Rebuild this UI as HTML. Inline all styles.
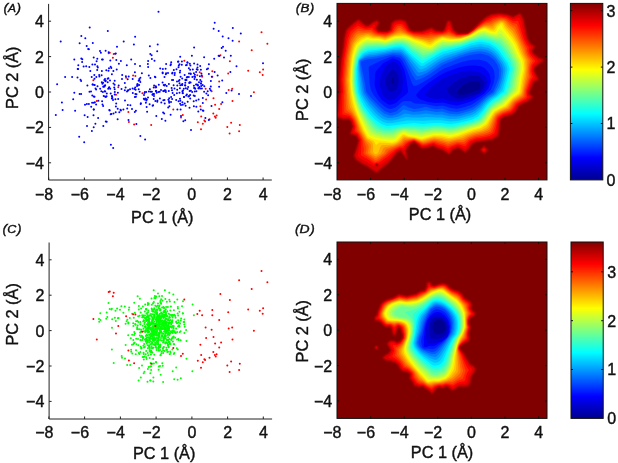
<!DOCTYPE html>
<html><head><meta charset="utf-8"><title>Figure</title>
<style>html,body{margin:0;padding:0;background:#fff}svg{display:block;will-change:transform;transform:translateZ(0)}text{font-family:"Liberation Sans",Arial,Helvetica,sans-serif;fill:#111;stroke:#111;stroke-width:0.4px}</style>
</head><body>
<svg width="618" height="463" viewBox="0 0 618 463">
<defs><linearGradient id="jet" x1="0" y1="1" x2="0" y2="0"><stop offset="0" stop-color="#00008f"/><stop offset="0.125" stop-color="#0000ff"/><stop offset="0.375" stop-color="#00ffff"/><stop offset="0.625" stop-color="#ffff00"/><stop offset="0.875" stop-color="#ff0000"/><stop offset="1" stop-color="#800000"/></linearGradient></defs>
<rect width="618" height="463" fill="#fff"/>
<g stroke="#222" stroke-width="1" fill="none"><path d="M48.6,3.9V180.0H271.8"/><path d="M48.7,180.0v-2.5"/><path d="M84.4,180.0v-2.5"/><path d="M120.2,180.0v-2.5"/><path d="M155.9,180.0v-2.5"/><path d="M191.7,180.0v-2.5"/><path d="M227.4,180.0v-2.5"/><path d="M263.1,180.0v-2.5"/><path d="M48.6,162.8h2.5"/><path d="M48.6,127.4h2.5"/><path d="M48.6,92.0h2.5"/><path d="M48.6,56.6h2.5"/><path d="M48.6,21.2h2.5"/></g>
<g fill="#ff0000"><circle cx="261.5" cy="32.3" r="1.0"/><circle cx="267.4" cy="43.7" r="1.0"/><circle cx="239.1" cy="41.6" r="1.0"/><circle cx="251.7" cy="50.3" r="1.0"/><circle cx="220.4" cy="55.3" r="1.0"/><circle cx="229.9" cy="61.3" r="1.0"/><circle cx="184.3" cy="60.8" r="1.0"/><circle cx="199.7" cy="72.2" r="1.0"/><circle cx="197.3" cy="75.3" r="1.0"/><circle cx="202.1" cy="76.7" r="1.0"/><circle cx="212.3" cy="71.3" r="1.0"/><circle cx="212.3" cy="76.7" r="1.0"/><circle cx="228.2" cy="73.6" r="1.0"/><circle cx="219.2" cy="81.5" r="1.0"/><circle cx="248.2" cy="70.8" r="1.0"/><circle cx="259.8" cy="72.2" r="1.0"/><circle cx="263.1" cy="69.6" r="1.0"/><circle cx="262.7" cy="75.1" r="1.0"/><circle cx="205.6" cy="88.8" r="1.0"/><circle cx="211.6" cy="91.2" r="1.0"/><circle cx="228.7" cy="90.0" r="1.0"/><circle cx="232.2" cy="88.8" r="1.0"/><circle cx="253.9" cy="92.2" r="1.0"/><circle cx="206.1" cy="99.5" r="1.0"/><circle cx="213.5" cy="98.3" r="1.0"/><circle cx="232.5" cy="100.9" r="1.0"/><circle cx="200.4" cy="106.2" r="1.0"/><circle cx="215.1" cy="104.8" r="1.0"/><circle cx="221.1" cy="104.0" r="1.0"/><circle cx="219.2" cy="109.0" r="1.0"/><circle cx="173.3" cy="109.5" r="1.0"/><circle cx="213.3" cy="113.5" r="1.0"/><circle cx="182.8" cy="115.1" r="1.0"/><circle cx="181.0" cy="117.4" r="1.0"/><circle cx="201.2" cy="116.5" r="1.0"/><circle cx="216.6" cy="115.6" r="1.0"/><circle cx="214.9" cy="116.5" r="1.0"/><circle cx="215.7" cy="117.8" r="1.0"/><circle cx="209.5" cy="119.2" r="1.0"/><circle cx="204.4" cy="120.6" r="1.0"/><circle cx="205.1" cy="121.5" r="1.0"/><circle cx="197.8" cy="122.2" r="1.0"/><circle cx="202.8" cy="123.7" r="1.0"/><circle cx="201.0" cy="129.2" r="1.0"/><circle cx="231.1" cy="122.8" r="1.0"/><circle cx="227.3" cy="126.9" r="1.0"/><circle cx="239.8" cy="125.1" r="1.0"/><circle cx="239.1" cy="131.3" r="1.0"/><circle cx="229.6" cy="133.4" r="1.0"/><circle cx="108.7" cy="53.3" r="1.0"/><circle cx="109.8" cy="52.8" r="1.0"/><circle cx="113.7" cy="54.1" r="1.0"/><circle cx="112.9" cy="57.7" r="1.0"/><circle cx="93.4" cy="80.3" r="1.0"/><circle cx="96.8" cy="101.0" r="1.0"/><circle cx="118.3" cy="87.3" r="1.0"/><circle cx="116.0" cy="94.8" r="1.0"/><circle cx="126.1" cy="77.7" r="1.0"/><circle cx="133.1" cy="75.6" r="1.0"/><circle cx="135.4" cy="75.9" r="1.0"/><circle cx="142.4" cy="93.2" r="1.0"/><circle cx="155.4" cy="87.5" r="1.0"/><circle cx="128.4" cy="111.9" r="1.0"/><circle cx="128.9" cy="122.0" r="1.0"/><circle cx="134.1" cy="124.6" r="1.0"/><circle cx="151.2" cy="125.1" r="1.0"/></g><g fill="#0000ff"><circle cx="101.3" cy="91.2" r="1.0"/><circle cx="163.1" cy="112.4" r="1.0"/><circle cx="125.0" cy="100.6" r="1.0"/><circle cx="89.3" cy="67.0" r="1.0"/><circle cx="214.6" cy="72.0" r="1.0"/><circle cx="93.8" cy="109.5" r="1.0"/><circle cx="107.8" cy="31.1" r="1.0"/><circle cx="102.5" cy="104.4" r="1.0"/><circle cx="222.4" cy="102.2" r="1.0"/><circle cx="107.7" cy="82.3" r="1.0"/><circle cx="179.9" cy="72.5" r="1.0"/><circle cx="90.3" cy="70.9" r="1.0"/><circle cx="176.5" cy="69.2" r="1.0"/><circle cx="81.1" cy="81.1" r="1.0"/><circle cx="137.6" cy="84.3" r="1.0"/><circle cx="109.3" cy="87.2" r="1.0"/><circle cx="110.9" cy="144.8" r="1.0"/><circle cx="157.3" cy="101.8" r="1.0"/><circle cx="155.9" cy="90.9" r="1.0"/><circle cx="79.2" cy="136.7" r="1.0"/><circle cx="97.4" cy="66.3" r="1.0"/><circle cx="178.0" cy="61.8" r="1.0"/><circle cx="127.9" cy="90.5" r="1.0"/><circle cx="194.1" cy="47.6" r="1.0"/><circle cx="86.7" cy="45.9" r="1.0"/><circle cx="182.0" cy="84.8" r="1.0"/><circle cx="199.0" cy="82.2" r="1.0"/><circle cx="84.6" cy="115.3" r="1.0"/><circle cx="91.0" cy="91.4" r="1.0"/><circle cx="158.8" cy="84.8" r="1.0"/><circle cx="182.3" cy="83.9" r="1.0"/><circle cx="165.6" cy="68.7" r="1.0"/><circle cx="135.1" cy="36.8" r="1.0"/><circle cx="92.4" cy="64.6" r="1.0"/><circle cx="190.1" cy="94.9" r="1.0"/><circle cx="186.0" cy="65.2" r="1.0"/><circle cx="128.7" cy="76.6" r="1.0"/><circle cx="213.6" cy="28.7" r="1.0"/><circle cx="127.8" cy="105.1" r="1.0"/><circle cx="181.9" cy="61.5" r="1.0"/><circle cx="97.2" cy="70.1" r="1.0"/><circle cx="109.7" cy="110.4" r="1.0"/><circle cx="165.1" cy="84.7" r="1.0"/><circle cx="196.4" cy="106.7" r="1.0"/><circle cx="151.9" cy="91.8" r="1.0"/><circle cx="169.2" cy="98.2" r="1.0"/><circle cx="151.6" cy="55.2" r="1.0"/><circle cx="155.8" cy="86.3" r="1.0"/><circle cx="92.9" cy="84.5" r="1.0"/><circle cx="93.7" cy="109.5" r="1.0"/><circle cx="125.9" cy="76.2" r="1.0"/><circle cx="96.1" cy="89.6" r="1.0"/><circle cx="105.6" cy="50.7" r="1.0"/><circle cx="186.8" cy="77.6" r="1.0"/><circle cx="201.4" cy="73.6" r="1.0"/><circle cx="96.6" cy="61.2" r="1.0"/><circle cx="140.7" cy="103.9" r="1.0"/><circle cx="192.4" cy="77.1" r="1.0"/><circle cx="191.0" cy="130.1" r="1.0"/><circle cx="121.5" cy="89.0" r="1.0"/><circle cx="177.2" cy="89.8" r="1.0"/><circle cx="89.5" cy="91.8" r="1.0"/><circle cx="79.6" cy="94.0" r="1.0"/><circle cx="120.9" cy="61.0" r="1.0"/><circle cx="222.2" cy="80.6" r="1.0"/><circle cx="111.3" cy="68.1" r="1.0"/><circle cx="107.6" cy="78.7" r="1.0"/><circle cx="218.6" cy="55.7" r="1.0"/><circle cx="87.0" cy="126.1" r="1.0"/><circle cx="83.6" cy="66.4" r="1.0"/><circle cx="206.4" cy="93.6" r="1.0"/><circle cx="230.4" cy="72.0" r="1.0"/><circle cx="123.4" cy="109.5" r="1.0"/><circle cx="176.9" cy="93.2" r="1.0"/><circle cx="131.2" cy="59.4" r="1.0"/><circle cx="91.2" cy="106.7" r="1.0"/><circle cx="208.8" cy="120.0" r="1.0"/><circle cx="113.5" cy="113.4" r="1.0"/><circle cx="194.6" cy="88.0" r="1.0"/><circle cx="154.5" cy="60.7" r="1.0"/><circle cx="95.0" cy="64.5" r="1.0"/><circle cx="87.6" cy="117.1" r="1.0"/><circle cx="219.1" cy="86.8" r="1.0"/><circle cx="118.9" cy="63.7" r="1.0"/><circle cx="75.1" cy="110.8" r="1.0"/><circle cx="204.1" cy="91.8" r="1.0"/><circle cx="194.1" cy="88.0" r="1.0"/><circle cx="65.1" cy="77.1" r="1.0"/><circle cx="105.0" cy="79.1" r="1.0"/><circle cx="109.0" cy="68.2" r="1.0"/><circle cx="149.9" cy="46.3" r="1.0"/><circle cx="120.5" cy="109.8" r="1.0"/><circle cx="101.8" cy="82.3" r="1.0"/><circle cx="210.8" cy="86.5" r="1.0"/><circle cx="172.2" cy="73.5" r="1.0"/><circle cx="118.2" cy="98.9" r="1.0"/><circle cx="92.8" cy="43.0" r="1.0"/><circle cx="72.1" cy="76.9" r="1.0"/><circle cx="157.7" cy="44.4" r="1.0"/><circle cx="81.3" cy="58.6" r="1.0"/><circle cx="103.3" cy="125.9" r="1.0"/><circle cx="172.6" cy="92.9" r="1.0"/><circle cx="104.3" cy="80.1" r="1.0"/><circle cx="177.3" cy="85.5" r="1.0"/><circle cx="177.4" cy="109.4" r="1.0"/><circle cx="99.2" cy="75.0" r="1.0"/><circle cx="134.5" cy="89.1" r="1.0"/><circle cx="186.9" cy="94.4" r="1.0"/><circle cx="217.6" cy="75.5" r="1.0"/><circle cx="173.6" cy="85.2" r="1.0"/><circle cx="113.0" cy="100.0" r="1.0"/><circle cx="111.4" cy="114.0" r="1.0"/><circle cx="148.1" cy="61.1" r="1.0"/><circle cx="205.4" cy="117.9" r="1.0"/><circle cx="218.7" cy="30.9" r="1.0"/><circle cx="180.0" cy="98.8" r="1.0"/><circle cx="140.9" cy="103.3" r="1.0"/><circle cx="116.3" cy="59.9" r="1.0"/><circle cx="80.5" cy="79.7" r="1.0"/><circle cx="88.9" cy="103.9" r="1.0"/><circle cx="85.3" cy="38.3" r="1.0"/><circle cx="207.7" cy="91.2" r="1.0"/><circle cx="171.0" cy="102.0" r="1.0"/><circle cx="114.6" cy="84.8" r="1.0"/><circle cx="134.9" cy="97.1" r="1.0"/><circle cx="148.1" cy="67.0" r="1.0"/><circle cx="78.3" cy="65.2" r="1.0"/><circle cx="199.9" cy="76.2" r="1.0"/><circle cx="263.0" cy="63.3" r="1.0"/><circle cx="174.6" cy="75.1" r="1.0"/><circle cx="165.4" cy="120.8" r="1.0"/><circle cx="171.6" cy="88.1" r="1.0"/><circle cx="94.3" cy="75.0" r="1.0"/><circle cx="106.3" cy="70.3" r="1.0"/><circle cx="106.7" cy="121.8" r="1.0"/><circle cx="210.9" cy="80.9" r="1.0"/><circle cx="91.9" cy="131.1" r="1.0"/><circle cx="197.8" cy="84.9" r="1.0"/><circle cx="87.4" cy="85.4" r="1.0"/><circle cx="115.7" cy="112.3" r="1.0"/><circle cx="202.8" cy="98.1" r="1.0"/><circle cx="110.2" cy="88.7" r="1.0"/><circle cx="200.3" cy="79.9" r="1.0"/><circle cx="109.3" cy="110.0" r="1.0"/><circle cx="127.7" cy="79.2" r="1.0"/><circle cx="156.3" cy="116.1" r="1.0"/><circle cx="108.7" cy="52.2" r="1.0"/><circle cx="172.0" cy="80.0" r="1.0"/><circle cx="185.0" cy="85.2" r="1.0"/><circle cx="105.8" cy="121.5" r="1.0"/><circle cx="162.9" cy="68.9" r="1.0"/><circle cx="202.8" cy="102.9" r="1.0"/><circle cx="81.1" cy="94.1" r="1.0"/><circle cx="93.8" cy="96.5" r="1.0"/><circle cx="104.7" cy="91.3" r="1.0"/><circle cx="93.7" cy="127.3" r="1.0"/><circle cx="111.9" cy="74.3" r="1.0"/><circle cx="108.4" cy="78.3" r="1.0"/><circle cx="126.8" cy="65.3" r="1.0"/><circle cx="88.2" cy="49.1" r="1.0"/><circle cx="140.0" cy="66.1" r="1.0"/><circle cx="55.8" cy="115.1" r="1.0"/><circle cx="103.1" cy="106.1" r="1.0"/><circle cx="204.1" cy="57.3" r="1.0"/><circle cx="135.6" cy="89.8" r="1.0"/><circle cx="189.2" cy="82.9" r="1.0"/><circle cx="130.0" cy="89.3" r="1.0"/><circle cx="226.3" cy="92.9" r="1.0"/><circle cx="172.5" cy="72.7" r="1.0"/><circle cx="136.4" cy="124.1" r="1.0"/><circle cx="189.6" cy="82.2" r="1.0"/><circle cx="196.4" cy="91.2" r="1.0"/><circle cx="148.9" cy="91.6" r="1.0"/><circle cx="135.0" cy="63.9" r="1.0"/><circle cx="225.7" cy="50.8" r="1.0"/><circle cx="122.0" cy="79.0" r="1.0"/><circle cx="198.6" cy="99.6" r="1.0"/><circle cx="86.9" cy="103.9" r="1.0"/><circle cx="148.0" cy="97.5" r="1.0"/><circle cx="93.7" cy="57.5" r="1.0"/><circle cx="170.6" cy="114.7" r="1.0"/><circle cx="161.3" cy="102.6" r="1.0"/><circle cx="62.6" cy="110.0" r="1.0"/><circle cx="164.4" cy="85.5" r="1.0"/><circle cx="93.5" cy="115.2" r="1.0"/><circle cx="221.7" cy="48.0" r="1.0"/><circle cx="133.9" cy="44.5" r="1.0"/><circle cx="232.6" cy="40.8" r="1.0"/><circle cx="77.7" cy="69.0" r="1.0"/><circle cx="208.0" cy="68.6" r="1.0"/><circle cx="170.9" cy="64.2" r="1.0"/><circle cx="108.9" cy="87.8" r="1.0"/><circle cx="117.0" cy="46.7" r="1.0"/><circle cx="138.7" cy="89.2" r="1.0"/><circle cx="171.2" cy="62.3" r="1.0"/><circle cx="135.4" cy="94.1" r="1.0"/><circle cx="123.7" cy="41.4" r="1.0"/><circle cx="174.8" cy="72.9" r="1.0"/><circle cx="161.8" cy="118.9" r="1.0"/><circle cx="204.3" cy="86.2" r="1.0"/><circle cx="184.7" cy="103.5" r="1.0"/><circle cx="179.5" cy="92.8" r="1.0"/><circle cx="210.6" cy="90.2" r="1.0"/><circle cx="197.5" cy="64.4" r="1.0"/><circle cx="198.6" cy="88.2" r="1.0"/><circle cx="223.0" cy="46.7" r="1.0"/><circle cx="145.9" cy="102.7" r="1.0"/><circle cx="95.4" cy="123.8" r="1.0"/><circle cx="168.2" cy="107.4" r="1.0"/><circle cx="88.9" cy="49.2" r="1.0"/><circle cx="194.9" cy="74.7" r="1.0"/><circle cx="162.7" cy="73.3" r="1.0"/><circle cx="224.0" cy="57.5" r="1.0"/><circle cx="156.1" cy="91.1" r="1.0"/><circle cx="94.9" cy="102.3" r="1.0"/><circle cx="141.9" cy="73.2" r="1.0"/><circle cx="127.2" cy="108.4" r="1.0"/><circle cx="61.9" cy="102.4" r="1.0"/><circle cx="151.9" cy="59.1" r="1.0"/><circle cx="176.2" cy="99.9" r="1.0"/><circle cx="120.9" cy="110.5" r="1.0"/><circle cx="181.8" cy="64.8" r="1.0"/><circle cx="179.9" cy="88.2" r="1.0"/><circle cx="114.8" cy="91.9" r="1.0"/><circle cx="172.0" cy="90.2" r="1.0"/><circle cx="191.9" cy="55.7" r="1.0"/><circle cx="144.5" cy="93.1" r="1.0"/><circle cx="182.4" cy="91.3" r="1.0"/><circle cx="96.1" cy="104.6" r="1.0"/><circle cx="92.1" cy="102.8" r="1.0"/><circle cx="208.9" cy="73.9" r="1.0"/><circle cx="135.9" cy="96.8" r="1.0"/><circle cx="117.7" cy="108.8" r="1.0"/><circle cx="134.8" cy="111.9" r="1.0"/><circle cx="82.1" cy="62.0" r="1.0"/><circle cx="79.6" cy="43.3" r="1.0"/><circle cx="74.3" cy="92.7" r="1.0"/><circle cx="236.5" cy="66.2" r="1.0"/><circle cx="153.7" cy="87.6" r="1.0"/><circle cx="185.2" cy="120.2" r="1.0"/><circle cx="188.8" cy="77.0" r="1.0"/><circle cx="78.1" cy="69.1" r="1.0"/><circle cx="177.0" cy="81.6" r="1.0"/><circle cx="156.6" cy="92.8" r="1.0"/><circle cx="219.4" cy="56.1" r="1.0"/><circle cx="77.5" cy="77.4" r="1.0"/><circle cx="102.0" cy="59.6" r="1.0"/><circle cx="182.6" cy="93.0" r="1.0"/><circle cx="153.1" cy="105.2" r="1.0"/><circle cx="96.3" cy="77.0" r="1.0"/><circle cx="211.8" cy="76.7" r="1.0"/><circle cx="97.5" cy="86.3" r="1.0"/><circle cx="86.2" cy="66.3" r="1.0"/><circle cx="160.2" cy="68.6" r="1.0"/><circle cx="165.8" cy="74.2" r="1.0"/><circle cx="201.4" cy="81.6" r="1.0"/><circle cx="150.3" cy="53.9" r="1.0"/><circle cx="172.1" cy="99.0" r="1.0"/><circle cx="201.9" cy="88.5" r="1.0"/><circle cx="196.1" cy="72.0" r="1.0"/><circle cx="115.8" cy="53.4" r="1.0"/><circle cx="168.4" cy="99.7" r="1.0"/><circle cx="102.8" cy="59.4" r="1.0"/><circle cx="74.3" cy="59.6" r="1.0"/><circle cx="82.3" cy="59.3" r="1.0"/><circle cx="115.1" cy="53.8" r="1.0"/><circle cx="164.2" cy="113.5" r="1.0"/><circle cx="173.8" cy="70.1" r="1.0"/><circle cx="162.6" cy="72.5" r="1.0"/><circle cx="130.4" cy="105.3" r="1.0"/><circle cx="231.6" cy="90.6" r="1.0"/><circle cx="147.9" cy="64.0" r="1.0"/><circle cx="185.6" cy="80.3" r="1.0"/><circle cx="203.4" cy="110.7" r="1.0"/><circle cx="195.1" cy="76.9" r="1.0"/><circle cx="154.0" cy="96.1" r="1.0"/><circle cx="230.8" cy="55.7" r="1.0"/><circle cx="183.9" cy="97.0" r="1.0"/><circle cx="157.4" cy="100.6" r="1.0"/><circle cx="182.8" cy="104.7" r="1.0"/><circle cx="154.0" cy="94.0" r="1.0"/><circle cx="180.6" cy="76.7" r="1.0"/><circle cx="157.2" cy="51.3" r="1.0"/><circle cx="163.7" cy="85.1" r="1.0"/><circle cx="73.2" cy="99.3" r="1.0"/><circle cx="179.5" cy="64.3" r="1.0"/><circle cx="197.6" cy="69.8" r="1.0"/><circle cx="137.0" cy="86.0" r="1.0"/><circle cx="143.8" cy="98.7" r="1.0"/><circle cx="119.3" cy="112.3" r="1.0"/><circle cx="97.3" cy="58.8" r="1.0"/><circle cx="166.1" cy="64.0" r="1.0"/><circle cx="182.4" cy="102.3" r="1.0"/><circle cx="165.9" cy="92.1" r="1.0"/><circle cx="94.5" cy="96.8" r="1.0"/><circle cx="113.2" cy="147.9" r="1.0"/><circle cx="117.6" cy="119.2" r="1.0"/><circle cx="115.9" cy="106.4" r="1.0"/><circle cx="180.3" cy="100.7" r="1.0"/><circle cx="150.4" cy="78.0" r="1.0"/><circle cx="103.1" cy="82.7" r="1.0"/><circle cx="108.2" cy="88.8" r="1.0"/><circle cx="110.7" cy="93.5" r="1.0"/><circle cx="100.2" cy="88.8" r="1.0"/><circle cx="106.8" cy="93.6" r="1.0"/><circle cx="101.6" cy="75.3" r="1.0"/><circle cx="105.2" cy="91.4" r="1.0"/><circle cx="102.9" cy="92.1" r="1.0"/><circle cx="93.9" cy="102.8" r="1.0"/><circle cx="103.9" cy="86.5" r="1.0"/><circle cx="111.9" cy="98.5" r="1.0"/><circle cx="95.5" cy="88.4" r="1.0"/><circle cx="101.9" cy="71.1" r="1.0"/><circle cx="110.0" cy="80.6" r="1.0"/><circle cx="94.5" cy="78.7" r="1.0"/><circle cx="105.7" cy="80.8" r="1.0"/><circle cx="94.6" cy="85.0" r="1.0"/><circle cx="114.2" cy="87.6" r="1.0"/><circle cx="124.8" cy="90.2" r="1.0"/><circle cx="122.2" cy="75.1" r="1.0"/><circle cx="102.1" cy="101.2" r="1.0"/><circle cx="110.7" cy="66.8" r="1.0"/><circle cx="105.2" cy="85.3" r="1.0"/><circle cx="105.0" cy="96.4" r="1.0"/><circle cx="117.9" cy="92.7" r="1.0"/><circle cx="92.3" cy="95.4" r="1.0"/><circle cx="113.5" cy="83.5" r="1.0"/><circle cx="103.7" cy="96.0" r="1.0"/><circle cx="116.7" cy="69.6" r="1.0"/><circle cx="105.8" cy="96.9" r="1.0"/><circle cx="98.1" cy="118.0" r="1.0"/><circle cx="106.6" cy="96.2" r="1.0"/><circle cx="110.7" cy="114.2" r="1.0"/><circle cx="104.4" cy="86.4" r="1.0"/><circle cx="108.5" cy="70.8" r="1.0"/><circle cx="99.4" cy="76.6" r="1.0"/><circle cx="85.0" cy="104.7" r="1.0"/><circle cx="112.1" cy="96.6" r="1.0"/><circle cx="110.3" cy="60.6" r="1.0"/><circle cx="105.4" cy="81.3" r="1.0"/><circle cx="104.7" cy="85.7" r="1.0"/><circle cx="113.4" cy="70.9" r="1.0"/><circle cx="100.0" cy="51.1" r="1.0"/><circle cx="97.8" cy="67.4" r="1.0"/><circle cx="102.4" cy="83.8" r="1.0"/><circle cx="114.7" cy="80.8" r="1.0"/><circle cx="91.7" cy="77.1" r="1.0"/><circle cx="114.7" cy="94.5" r="1.0"/><circle cx="98.4" cy="100.8" r="1.0"/><circle cx="94.3" cy="85.1" r="1.0"/><circle cx="115.4" cy="99.2" r="1.0"/><circle cx="103.2" cy="86.7" r="1.0"/><circle cx="92.5" cy="84.4" r="1.0"/><circle cx="100.9" cy="52.7" r="1.0"/><circle cx="112.4" cy="97.9" r="1.0"/><circle cx="202.7" cy="85.0" r="1.0"/><circle cx="185.3" cy="85.6" r="1.0"/><circle cx="194.2" cy="76.6" r="1.0"/><circle cx="197.5" cy="67.4" r="1.0"/><circle cx="183.0" cy="90.5" r="1.0"/><circle cx="193.7" cy="95.5" r="1.0"/><circle cx="189.5" cy="107.8" r="1.0"/><circle cx="184.1" cy="97.1" r="1.0"/><circle cx="184.6" cy="75.1" r="1.0"/><circle cx="190.6" cy="82.5" r="1.0"/><circle cx="190.2" cy="98.4" r="1.0"/><circle cx="183.8" cy="88.8" r="1.0"/><circle cx="185.3" cy="82.7" r="1.0"/><circle cx="201.8" cy="75.6" r="1.0"/><circle cx="192.2" cy="92.1" r="1.0"/><circle cx="199.4" cy="86.9" r="1.0"/><circle cx="202.8" cy="110.5" r="1.0"/><circle cx="196.2" cy="100.5" r="1.0"/><circle cx="214.2" cy="58.8" r="1.0"/><circle cx="181.0" cy="116.1" r="1.0"/><circle cx="198.5" cy="88.2" r="1.0"/><circle cx="186.5" cy="79.9" r="1.0"/><circle cx="209.8" cy="88.8" r="1.0"/><circle cx="208.1" cy="95.3" r="1.0"/><circle cx="168.9" cy="84.1" r="1.0"/><circle cx="179.5" cy="83.2" r="1.0"/><circle cx="197.0" cy="84.4" r="1.0"/><circle cx="198.3" cy="111.4" r="1.0"/><circle cx="197.8" cy="85.4" r="1.0"/><circle cx="189.1" cy="96.0" r="1.0"/><circle cx="194.8" cy="91.4" r="1.0"/><circle cx="196.9" cy="79.7" r="1.0"/><circle cx="189.0" cy="73.5" r="1.0"/><circle cx="200.9" cy="69.7" r="1.0"/><circle cx="165.6" cy="90.6" r="1.0"/><circle cx="196.7" cy="69.2" r="1.0"/><circle cx="178.8" cy="65.5" r="1.0"/><circle cx="200.2" cy="66.0" r="1.0"/><circle cx="187.4" cy="62.2" r="1.0"/><circle cx="180.3" cy="85.3" r="1.0"/><circle cx="193.9" cy="85.8" r="1.0"/><circle cx="180.1" cy="70.7" r="1.0"/><circle cx="180.1" cy="103.7" r="1.0"/><circle cx="173.1" cy="80.0" r="1.0"/><circle cx="189.6" cy="91.1" r="1.0"/><circle cx="195.2" cy="88.7" r="1.0"/><circle cx="200.8" cy="109.4" r="1.0"/><circle cx="188.4" cy="96.5" r="1.0"/><circle cx="201.1" cy="83.5" r="1.0"/><circle cx="190.1" cy="69.8" r="1.0"/><circle cx="188.9" cy="68.3" r="1.0"/><circle cx="196.0" cy="84.4" r="1.0"/><circle cx="201.2" cy="86.0" r="1.0"/><circle cx="186.2" cy="95.6" r="1.0"/><circle cx="187.3" cy="77.1" r="1.0"/><circle cx="188.1" cy="86.9" r="1.0"/><circle cx="190.8" cy="74.0" r="1.0"/><circle cx="180.2" cy="56.8" r="1.0"/><circle cx="200.9" cy="83.6" r="1.0"/><circle cx="185.6" cy="105.7" r="1.0"/><circle cx="194.8" cy="96.1" r="1.0"/><circle cx="181.0" cy="105.1" r="1.0"/><circle cx="193.7" cy="101.2" r="1.0"/><circle cx="194.1" cy="63.5" r="1.0"/><circle cx="185.4" cy="79.7" r="1.0"/><circle cx="211.5" cy="106.0" r="1.0"/><circle cx="193.9" cy="73.3" r="1.0"/><circle cx="208.9" cy="64.2" r="1.0"/><circle cx="200.2" cy="88.6" r="1.0"/><circle cx="182.8" cy="93.3" r="1.0"/><circle cx="185.8" cy="88.2" r="1.0"/><circle cx="194.5" cy="78.9" r="1.0"/><circle cx="190.5" cy="73.5" r="1.0"/><circle cx="190.4" cy="65.4" r="1.0"/><circle cx="186.8" cy="64.9" r="1.0"/><circle cx="170.5" cy="65.3" r="1.0"/><circle cx="187.5" cy="62.7" r="1.0"/><circle cx="166.1" cy="73.2" r="1.0"/><circle cx="193.9" cy="106.2" r="1.0"/><circle cx="182.1" cy="85.1" r="1.0"/><circle cx="182.2" cy="78.4" r="1.0"/><circle cx="187.5" cy="88.9" r="1.0"/><circle cx="192.8" cy="69.4" r="1.0"/><circle cx="174.5" cy="88.6" r="1.0"/><circle cx="171.1" cy="97.1" r="1.0"/><circle cx="178.4" cy="61.4" r="1.0"/><circle cx="168.0" cy="73.1" r="1.0"/><circle cx="179.5" cy="79.9" r="1.0"/><circle cx="206.9" cy="69.2" r="1.0"/><circle cx="178.5" cy="67.2" r="1.0"/><circle cx="161.0" cy="90.1" r="1.0"/><circle cx="128.5" cy="119.9" r="1.0"/><circle cx="155.4" cy="100.9" r="1.0"/><circle cx="145.4" cy="98.6" r="1.0"/><circle cx="149.6" cy="104.2" r="1.0"/><circle cx="159.7" cy="91.7" r="1.0"/><circle cx="178.8" cy="81.1" r="1.0"/><circle cx="153.7" cy="98.9" r="1.0"/><circle cx="152.6" cy="105.8" r="1.0"/><circle cx="134.9" cy="72.2" r="1.0"/><circle cx="159.9" cy="98.6" r="1.0"/><circle cx="146.6" cy="106.9" r="1.0"/><circle cx="163.9" cy="91.2" r="1.0"/><circle cx="149.9" cy="89.2" r="1.0"/><circle cx="178.6" cy="101.3" r="1.0"/><circle cx="118.7" cy="85.4" r="1.0"/><circle cx="145.8" cy="98.9" r="1.0"/><circle cx="164.7" cy="103.6" r="1.0"/><circle cx="144.9" cy="91.9" r="1.0"/><circle cx="137.8" cy="85.6" r="1.0"/><circle cx="146.3" cy="100.5" r="1.0"/><circle cx="128.4" cy="90.3" r="1.0"/><circle cx="152.5" cy="94.8" r="1.0"/><circle cx="189.8" cy="63.8" r="1.0"/><circle cx="169.0" cy="101.3" r="1.0"/><circle cx="132.7" cy="79.1" r="1.0"/><circle cx="136.5" cy="94.3" r="1.0"/><circle cx="144.0" cy="95.1" r="1.0"/><circle cx="166.7" cy="86.1" r="1.0"/><circle cx="137.3" cy="84.3" r="1.0"/><circle cx="139.5" cy="80.3" r="1.0"/><circle cx="164.8" cy="90.3" r="1.0"/><circle cx="164.5" cy="100.1" r="1.0"/><circle cx="144.5" cy="99.5" r="1.0"/><circle cx="132.6" cy="88.4" r="1.0"/><circle cx="125.6" cy="87.6" r="1.0"/><circle cx="139.3" cy="78.9" r="1.0"/><circle cx="114.7" cy="89.3" r="1.0"/><circle cx="162.6" cy="82.5" r="1.0"/><circle cx="140.4" cy="77.7" r="1.0"/><circle cx="158.3" cy="92.0" r="1.0"/><circle cx="180.6" cy="109.5" r="1.0"/><circle cx="169.4" cy="106.3" r="1.0"/><circle cx="132.0" cy="109.0" r="1.0"/><circle cx="164.5" cy="76.9" r="1.0"/><circle cx="169.2" cy="102.8" r="1.0"/><circle cx="138.6" cy="80.7" r="1.0"/><circle cx="135.2" cy="87.5" r="1.0"/><circle cx="148.8" cy="75.6" r="1.0"/><circle cx="124.8" cy="83.1" r="1.0"/><circle cx="174.2" cy="94.9" r="1.0"/><circle cx="111.9" cy="95.9" r="1.0"/><circle cx="132.8" cy="92.9" r="1.0"/><circle cx="146.2" cy="91.9" r="1.0"/><circle cx="146.9" cy="99.4" r="1.0"/><circle cx="153.2" cy="94.1" r="1.0"/><circle cx="154.9" cy="76.7" r="1.0"/><circle cx="147.1" cy="111.8" r="1.0"/><circle cx="168.8" cy="91.0" r="1.0"/><circle cx="116.2" cy="103.4" r="1.0"/><circle cx="150.6" cy="91.8" r="1.0"/><circle cx="139.1" cy="84.9" r="1.0"/><circle cx="152.7" cy="94.4" r="1.0"/><circle cx="154.1" cy="85.6" r="1.0"/><circle cx="135.9" cy="110.7" r="1.0"/><circle cx="140.3" cy="82.0" r="1.0"/><circle cx="163.3" cy="100.2" r="1.0"/><circle cx="156.2" cy="87.2" r="1.0"/><circle cx="139.6" cy="91.8" r="1.0"/><circle cx="183.4" cy="121.2" r="1.0"/><circle cx="187.7" cy="101.8" r="1.0"/><circle cx="127.0" cy="91.4" r="1.0"/><circle cx="155.4" cy="77.3" r="1.0"/><circle cx="190.9" cy="90.7" r="1.0"/><circle cx="163.2" cy="91.0" r="1.0"/><circle cx="158.5" cy="11.8" r="1.0"/><circle cx="214.7" cy="22.7" r="1.0"/><circle cx="232.8" cy="28.1" r="1.0"/><circle cx="89.7" cy="27.4" r="1.0"/><circle cx="60.7" cy="41.5" r="1.0"/><circle cx="57.1" cy="84.3" r="1.0"/><circle cx="240.8" cy="33.6" r="1.0"/><circle cx="222.7" cy="36.5" r="1.0"/><circle cx="228.5" cy="38.3" r="1.0"/><circle cx="81.3" cy="36.1" r="1.0"/><circle cx="84.2" cy="142.3" r="1.0"/><circle cx="145.1" cy="139.4" r="1.0"/><circle cx="140.4" cy="136.1" r="1.0"/><circle cx="251.0" cy="95.9" r="1.0"/><circle cx="239.0" cy="94.1" r="1.0"/></g>
<text x="53.2" y="200.0" font-size="16" text-anchor="end" >−8</text><text x="88.9" y="200.0" font-size="16" text-anchor="end" >−6</text><text x="124.6" y="200.0" font-size="16" text-anchor="end" >−4</text><text x="160.4" y="200.0" font-size="16" text-anchor="end" >−2</text><text x="196.1" y="200.0" font-size="16" text-anchor="end" >0</text><text x="231.9" y="200.0" font-size="16" text-anchor="end" >2</text><text x="267.6" y="200.0" font-size="16" text-anchor="end" >4</text>
<text x="44.0" y="168.7" font-size="16" text-anchor="end" >−4</text><text x="44.0" y="133.3" font-size="16" text-anchor="end" >−2</text><text x="44.0" y="97.9" font-size="16" text-anchor="end" >0</text><text x="44.0" y="62.5" font-size="16" text-anchor="end" >2</text><text x="44.0" y="27.1" font-size="16" text-anchor="end" >4</text>
<text transform="translate(17.8,77.7) rotate(-90)" font-size="16.3" text-anchor="middle">PC 2 (Å)</text>
<text x="162.3" y="222.9" font-size="16.3" text-anchor="middle" >PC 1 (Å)</text>
<text transform="translate(3.5,12.2)" font-style="italic" font-size="13.6">(</text><text transform="translate(8.1,12.2) scale(1.03,1)" font-style="italic" font-size="11.6">A</text><text transform="translate(16.6,12.2)" font-style="italic" font-size="13.6">)</text>
<g stroke="#222" stroke-width="1" fill="none"><path d="M49.1,242.5V419.0H272.1"/><path d="M48.9,419.0v-2.5"/><path d="M84.6,419.0v-2.5"/><path d="M120.4,419.0v-2.5"/><path d="M156.1,419.0v-2.5"/><path d="M191.9,419.0v-2.5"/><path d="M227.6,419.0v-2.5"/><path d="M263.3,419.0v-2.5"/><path d="M49.1,401.4h2.5"/><path d="M49.1,366.0h2.5"/><path d="M49.1,330.6h2.5"/><path d="M49.1,295.2h2.5"/><path d="M49.1,259.8h2.5"/></g>
<g fill="#00ff00"><circle cx="135.1" cy="324.1" r="1.0"/><circle cx="120.0" cy="309.8" r="1.0"/><circle cx="152.9" cy="336.9" r="1.0"/><circle cx="165.4" cy="311.2" r="1.0"/><circle cx="149.7" cy="357.9" r="1.0"/><circle cx="152.1" cy="310.9" r="1.0"/><circle cx="155.5" cy="324.3" r="1.0"/><circle cx="153.6" cy="330.4" r="1.0"/><circle cx="115.5" cy="310.7" r="1.0"/><circle cx="144.9" cy="322.3" r="1.0"/><circle cx="159.9" cy="319.9" r="1.0"/><circle cx="168.3" cy="342.0" r="1.0"/><circle cx="180.8" cy="378.2" r="1.0"/><circle cx="161.4" cy="324.4" r="1.0"/><circle cx="144.0" cy="347.4" r="1.0"/><circle cx="155.0" cy="312.2" r="1.0"/><circle cx="134.1" cy="334.9" r="1.0"/><circle cx="165.0" cy="327.6" r="1.0"/><circle cx="143.8" cy="320.8" r="1.0"/><circle cx="156.5" cy="350.1" r="1.0"/><circle cx="150.9" cy="344.2" r="1.0"/><circle cx="164.7" cy="311.8" r="1.0"/><circle cx="115.8" cy="321.1" r="1.0"/><circle cx="166.3" cy="349.8" r="1.0"/><circle cx="153.3" cy="381.6" r="1.0"/><circle cx="158.6" cy="336.2" r="1.0"/><circle cx="148.3" cy="355.2" r="1.0"/><circle cx="153.4" cy="377.6" r="1.0"/><circle cx="169.7" cy="343.8" r="1.0"/><circle cx="163.2" cy="338.0" r="1.0"/><circle cx="142.2" cy="317.2" r="1.0"/><circle cx="135.6" cy="324.8" r="1.0"/><circle cx="141.0" cy="336.9" r="1.0"/><circle cx="150.6" cy="363.1" r="1.0"/><circle cx="172.2" cy="321.2" r="1.0"/><circle cx="164.7" cy="325.9" r="1.0"/><circle cx="161.1" cy="299.2" r="1.0"/><circle cx="163.8" cy="341.0" r="1.0"/><circle cx="166.3" cy="327.9" r="1.0"/><circle cx="151.2" cy="348.1" r="1.0"/><circle cx="175.6" cy="317.8" r="1.0"/><circle cx="138.0" cy="339.0" r="1.0"/><circle cx="142.3" cy="339.9" r="1.0"/><circle cx="162.6" cy="329.1" r="1.0"/><circle cx="165.4" cy="315.2" r="1.0"/><circle cx="144.8" cy="326.4" r="1.0"/><circle cx="136.5" cy="344.2" r="1.0"/><circle cx="173.4" cy="315.4" r="1.0"/><circle cx="117.1" cy="308.5" r="1.0"/><circle cx="152.9" cy="329.1" r="1.0"/><circle cx="129.8" cy="317.9" r="1.0"/><circle cx="147.9" cy="348.3" r="1.0"/><circle cx="131.1" cy="349.7" r="1.0"/><circle cx="158.8" cy="366.5" r="1.0"/><circle cx="151.1" cy="351.8" r="1.0"/><circle cx="149.5" cy="338.2" r="1.0"/><circle cx="150.9" cy="315.2" r="1.0"/><circle cx="136.0" cy="350.2" r="1.0"/><circle cx="156.8" cy="343.1" r="1.0"/><circle cx="154.9" cy="344.2" r="1.0"/><circle cx="186.5" cy="341.0" r="1.0"/><circle cx="159.0" cy="350.7" r="1.0"/><circle cx="136.1" cy="321.2" r="1.0"/><circle cx="133.3" cy="339.9" r="1.0"/><circle cx="164.1" cy="331.5" r="1.0"/><circle cx="171.1" cy="323.1" r="1.0"/><circle cx="165.5" cy="322.6" r="1.0"/><circle cx="156.4" cy="313.4" r="1.0"/><circle cx="167.2" cy="330.2" r="1.0"/><circle cx="165.2" cy="324.4" r="1.0"/><circle cx="162.0" cy="327.0" r="1.0"/><circle cx="147.7" cy="352.9" r="1.0"/><circle cx="140.9" cy="340.2" r="1.0"/><circle cx="167.1" cy="340.1" r="1.0"/><circle cx="140.8" cy="377.6" r="1.0"/><circle cx="154.2" cy="317.0" r="1.0"/><circle cx="173.4" cy="330.9" r="1.0"/><circle cx="177.9" cy="308.6" r="1.0"/><circle cx="149.3" cy="325.8" r="1.0"/><circle cx="176.2" cy="367.4" r="1.0"/><circle cx="158.7" cy="308.1" r="1.0"/><circle cx="154.7" cy="345.1" r="1.0"/><circle cx="150.9" cy="354.6" r="1.0"/><circle cx="141.5" cy="331.4" r="1.0"/><circle cx="149.7" cy="348.0" r="1.0"/><circle cx="150.2" cy="328.0" r="1.0"/><circle cx="168.6" cy="323.8" r="1.0"/><circle cx="157.2" cy="330.9" r="1.0"/><circle cx="139.6" cy="315.8" r="1.0"/><circle cx="99.2" cy="321.7" r="1.0"/><circle cx="159.5" cy="321.4" r="1.0"/><circle cx="174.2" cy="379.3" r="1.0"/><circle cx="152.5" cy="323.0" r="1.0"/><circle cx="172.5" cy="317.6" r="1.0"/><circle cx="142.0" cy="365.6" r="1.0"/><circle cx="106.7" cy="312.4" r="1.0"/><circle cx="172.7" cy="371.3" r="1.0"/><circle cx="132.3" cy="353.4" r="1.0"/><circle cx="146.3" cy="338.3" r="1.0"/><circle cx="168.0" cy="327.4" r="1.0"/><circle cx="166.8" cy="315.9" r="1.0"/><circle cx="153.3" cy="309.7" r="1.0"/><circle cx="160.4" cy="309.5" r="1.0"/><circle cx="125.6" cy="323.7" r="1.0"/><circle cx="179.1" cy="326.2" r="1.0"/><circle cx="156.1" cy="362.4" r="1.0"/><circle cx="152.4" cy="332.6" r="1.0"/><circle cx="150.1" cy="380.4" r="1.0"/><circle cx="163.1" cy="342.4" r="1.0"/><circle cx="123.4" cy="312.8" r="1.0"/><circle cx="165.6" cy="333.2" r="1.0"/><circle cx="156.7" cy="313.5" r="1.0"/><circle cx="108.5" cy="302.9" r="1.0"/><circle cx="151.2" cy="366.3" r="1.0"/><circle cx="171.1" cy="323.0" r="1.0"/><circle cx="193.9" cy="315.2" r="1.0"/><circle cx="111.3" cy="309.5" r="1.0"/><circle cx="150.9" cy="338.6" r="1.0"/><circle cx="137.3" cy="329.1" r="1.0"/><circle cx="154.8" cy="295.9" r="1.0"/><circle cx="147.7" cy="342.3" r="1.0"/><circle cx="166.7" cy="319.0" r="1.0"/><circle cx="140.7" cy="346.8" r="1.0"/><circle cx="148.2" cy="330.2" r="1.0"/><circle cx="147.7" cy="332.4" r="1.0"/><circle cx="151.3" cy="328.7" r="1.0"/><circle cx="167.0" cy="339.7" r="1.0"/><circle cx="138.6" cy="380.4" r="1.0"/><circle cx="152.6" cy="348.1" r="1.0"/><circle cx="124.8" cy="306.6" r="1.0"/><circle cx="154.4" cy="330.6" r="1.0"/><circle cx="118.6" cy="317.9" r="1.0"/><circle cx="138.8" cy="309.5" r="1.0"/><circle cx="147.4" cy="315.9" r="1.0"/><circle cx="99.0" cy="318.9" r="1.0"/><circle cx="158.6" cy="369.8" r="1.0"/><circle cx="133.4" cy="344.3" r="1.0"/><circle cx="174.3" cy="353.1" r="1.0"/><circle cx="146.8" cy="341.4" r="1.0"/><circle cx="159.8" cy="322.0" r="1.0"/><circle cx="178.8" cy="325.6" r="1.0"/><circle cx="147.7" cy="328.0" r="1.0"/><circle cx="146.3" cy="321.0" r="1.0"/><circle cx="161.5" cy="327.0" r="1.0"/><circle cx="149.1" cy="346.0" r="1.0"/><circle cx="166.1" cy="306.9" r="1.0"/><circle cx="170.5" cy="320.1" r="1.0"/><circle cx="155.0" cy="329.8" r="1.0"/><circle cx="171.3" cy="339.9" r="1.0"/><circle cx="130.8" cy="338.2" r="1.0"/><circle cx="165.1" cy="342.7" r="1.0"/><circle cx="128.8" cy="309.8" r="1.0"/><circle cx="171.6" cy="314.9" r="1.0"/><circle cx="149.4" cy="321.8" r="1.0"/><circle cx="172.3" cy="320.2" r="1.0"/><circle cx="125.6" cy="345.0" r="1.0"/><circle cx="163.1" cy="382.1" r="1.0"/><circle cx="154.9" cy="340.4" r="1.0"/><circle cx="169.9" cy="301.6" r="1.0"/><circle cx="126.6" cy="321.3" r="1.0"/><circle cx="141.2" cy="348.5" r="1.0"/><circle cx="113.7" cy="362.9" r="1.0"/><circle cx="139.9" cy="335.6" r="1.0"/><circle cx="180.2" cy="323.6" r="1.0"/><circle cx="144.3" cy="324.0" r="1.0"/><circle cx="146.8" cy="337.5" r="1.0"/><circle cx="169.8" cy="354.2" r="1.0"/><circle cx="155.3" cy="323.4" r="1.0"/><circle cx="143.7" cy="315.6" r="1.0"/><circle cx="164.9" cy="290.2" r="1.0"/><circle cx="163.4" cy="312.1" r="1.0"/><circle cx="138.9" cy="353.0" r="1.0"/><circle cx="150.3" cy="337.0" r="1.0"/><circle cx="150.6" cy="380.5" r="1.0"/><circle cx="142.8" cy="306.5" r="1.0"/><circle cx="147.7" cy="324.5" r="1.0"/><circle cx="166.4" cy="347.7" r="1.0"/><circle cx="152.4" cy="339.0" r="1.0"/><circle cx="121.4" cy="306.3" r="1.0"/><circle cx="172.4" cy="325.9" r="1.0"/><circle cx="143.3" cy="337.8" r="1.0"/><circle cx="158.3" cy="340.4" r="1.0"/><circle cx="149.9" cy="328.5" r="1.0"/><circle cx="161.2" cy="315.3" r="1.0"/><circle cx="192.4" cy="371.2" r="1.0"/><circle cx="138.0" cy="329.3" r="1.0"/><circle cx="169.6" cy="342.3" r="1.0"/><circle cx="140.1" cy="332.5" r="1.0"/><circle cx="162.1" cy="307.6" r="1.0"/><circle cx="158.4" cy="318.1" r="1.0"/><circle cx="155.3" cy="305.7" r="1.0"/><circle cx="145.0" cy="315.6" r="1.0"/><circle cx="154.6" cy="316.0" r="1.0"/><circle cx="154.3" cy="326.8" r="1.0"/><circle cx="165.6" cy="322.2" r="1.0"/><circle cx="159.5" cy="324.3" r="1.0"/><circle cx="172.4" cy="349.6" r="1.0"/><circle cx="165.3" cy="299.1" r="1.0"/><circle cx="156.8" cy="309.6" r="1.0"/><circle cx="162.9" cy="348.7" r="1.0"/><circle cx="175.0" cy="332.4" r="1.0"/><circle cx="171.9" cy="327.8" r="1.0"/><circle cx="184.4" cy="319.6" r="1.0"/><circle cx="158.8" cy="332.9" r="1.0"/><circle cx="147.1" cy="317.3" r="1.0"/><circle cx="143.7" cy="353.9" r="1.0"/><circle cx="151.1" cy="350.4" r="1.0"/><circle cx="167.0" cy="322.4" r="1.0"/><circle cx="169.3" cy="299.7" r="1.0"/><circle cx="146.2" cy="357.3" r="1.0"/><circle cx="148.5" cy="321.2" r="1.0"/><circle cx="153.2" cy="338.8" r="1.0"/><circle cx="139.4" cy="353.9" r="1.0"/><circle cx="158.4" cy="347.9" r="1.0"/><circle cx="135.7" cy="354.3" r="1.0"/><circle cx="151.8" cy="330.3" r="1.0"/><circle cx="151.7" cy="351.9" r="1.0"/><circle cx="137.2" cy="329.1" r="1.0"/><circle cx="147.3" cy="319.5" r="1.0"/><circle cx="167.4" cy="329.7" r="1.0"/><circle cx="153.7" cy="322.9" r="1.0"/><circle cx="143.4" cy="345.8" r="1.0"/><circle cx="146.2" cy="351.0" r="1.0"/><circle cx="163.8" cy="312.3" r="1.0"/><circle cx="168.8" cy="313.7" r="1.0"/><circle cx="159.2" cy="325.3" r="1.0"/><circle cx="156.0" cy="329.0" r="1.0"/><circle cx="147.9" cy="369.1" r="1.0"/><circle cx="162.7" cy="365.8" r="1.0"/><circle cx="144.5" cy="371.8" r="1.0"/><circle cx="133.9" cy="343.2" r="1.0"/><circle cx="140.3" cy="339.9" r="1.0"/><circle cx="160.2" cy="319.9" r="1.0"/><circle cx="156.9" cy="324.9" r="1.0"/><circle cx="153.7" cy="290.3" r="1.0"/><circle cx="164.5" cy="351.1" r="1.0"/><circle cx="165.6" cy="320.1" r="1.0"/><circle cx="129.2" cy="307.6" r="1.0"/><circle cx="159.6" cy="322.0" r="1.0"/><circle cx="128.3" cy="322.5" r="1.0"/><circle cx="155.1" cy="342.8" r="1.0"/><circle cx="169.3" cy="292.7" r="1.0"/><circle cx="133.8" cy="317.8" r="1.0"/><circle cx="125.0" cy="358.5" r="1.0"/><circle cx="161.4" cy="353.2" r="1.0"/><circle cx="148.6" cy="337.2" r="1.0"/><circle cx="168.0" cy="333.5" r="1.0"/><circle cx="156.5" cy="317.3" r="1.0"/><circle cx="121.7" cy="355.9" r="1.0"/><circle cx="149.3" cy="345.3" r="1.0"/><circle cx="170.8" cy="331.3" r="1.0"/><circle cx="182.8" cy="313.6" r="1.0"/><circle cx="107.3" cy="317.0" r="1.0"/><circle cx="165.2" cy="325.0" r="1.0"/><circle cx="159.6" cy="322.9" r="1.0"/><circle cx="159.5" cy="305.6" r="1.0"/><circle cx="168.2" cy="326.2" r="1.0"/><circle cx="164.8" cy="328.2" r="1.0"/><circle cx="180.8" cy="320.6" r="1.0"/><circle cx="162.9" cy="325.4" r="1.0"/><circle cx="168.4" cy="322.8" r="1.0"/><circle cx="149.3" cy="325.1" r="1.0"/><circle cx="142.7" cy="336.8" r="1.0"/><circle cx="172.4" cy="330.6" r="1.0"/><circle cx="171.3" cy="315.7" r="1.0"/><circle cx="159.1" cy="347.8" r="1.0"/><circle cx="174.5" cy="331.3" r="1.0"/><circle cx="158.5" cy="328.7" r="1.0"/><circle cx="169.3" cy="342.1" r="1.0"/><circle cx="132.0" cy="344.7" r="1.0"/><circle cx="143.5" cy="352.8" r="1.0"/><circle cx="111.9" cy="349.4" r="1.0"/><circle cx="144.7" cy="339.5" r="1.0"/><circle cx="166.1" cy="342.6" r="1.0"/><circle cx="182.9" cy="313.3" r="1.0"/><circle cx="150.3" cy="341.3" r="1.0"/><circle cx="149.8" cy="318.9" r="1.0"/><circle cx="112.2" cy="319.2" r="1.0"/><circle cx="164.3" cy="310.8" r="1.0"/><circle cx="133.4" cy="326.1" r="1.0"/><circle cx="139.9" cy="298.8" r="1.0"/><circle cx="154.0" cy="338.9" r="1.0"/><circle cx="174.0" cy="344.2" r="1.0"/><circle cx="158.9" cy="346.4" r="1.0"/><circle cx="144.8" cy="311.6" r="1.0"/><circle cx="175.1" cy="337.8" r="1.0"/><circle cx="170.2" cy="351.5" r="1.0"/><circle cx="174.5" cy="302.1" r="1.0"/><circle cx="172.4" cy="315.5" r="1.0"/><circle cx="127.4" cy="319.8" r="1.0"/><circle cx="147.3" cy="329.1" r="1.0"/><circle cx="166.0" cy="314.3" r="1.0"/><circle cx="171.1" cy="332.5" r="1.0"/><circle cx="128.3" cy="323.4" r="1.0"/><circle cx="136.2" cy="338.7" r="1.0"/><circle cx="154.1" cy="332.4" r="1.0"/><circle cx="146.4" cy="340.5" r="1.0"/><circle cx="160.4" cy="318.4" r="1.0"/><circle cx="147.2" cy="341.7" r="1.0"/><circle cx="146.6" cy="343.5" r="1.0"/><circle cx="134.6" cy="342.8" r="1.0"/><circle cx="170.9" cy="306.4" r="1.0"/><circle cx="148.7" cy="366.9" r="1.0"/><circle cx="153.5" cy="334.6" r="1.0"/><circle cx="100.5" cy="320.1" r="1.0"/><circle cx="112.0" cy="327.8" r="1.0"/><circle cx="166.3" cy="331.4" r="1.0"/><circle cx="167.3" cy="331.6" r="1.0"/><circle cx="181.1" cy="318.5" r="1.0"/><circle cx="156.3" cy="319.6" r="1.0"/><circle cx="166.1" cy="324.2" r="1.0"/><circle cx="144.8" cy="346.9" r="1.0"/><circle cx="161.2" cy="327.7" r="1.0"/><circle cx="160.4" cy="302.5" r="1.0"/><circle cx="153.5" cy="328.5" r="1.0"/><circle cx="164.6" cy="316.1" r="1.0"/><circle cx="159.3" cy="296.3" r="1.0"/><circle cx="160.7" cy="374.8" r="1.0"/><circle cx="149.1" cy="321.0" r="1.0"/><circle cx="160.6" cy="332.4" r="1.0"/><circle cx="165.4" cy="324.1" r="1.0"/><circle cx="192.6" cy="304.6" r="1.0"/><circle cx="153.1" cy="359.1" r="1.0"/><circle cx="130.2" cy="364.9" r="1.0"/><circle cx="142.2" cy="315.3" r="1.0"/><circle cx="184.7" cy="326.7" r="1.0"/><circle cx="162.8" cy="324.8" r="1.0"/><circle cx="156.4" cy="314.0" r="1.0"/><circle cx="155.9" cy="339.0" r="1.0"/><circle cx="155.8" cy="346.8" r="1.0"/><circle cx="138.4" cy="345.3" r="1.0"/><circle cx="160.1" cy="339.9" r="1.0"/><circle cx="154.3" cy="298.1" r="1.0"/><circle cx="114.9" cy="317.8" r="1.0"/><circle cx="146.0" cy="331.6" r="1.0"/><circle cx="146.0" cy="341.6" r="1.0"/><circle cx="137.7" cy="325.6" r="1.0"/><circle cx="168.9" cy="328.3" r="1.0"/><circle cx="167.3" cy="351.9" r="1.0"/><circle cx="177.3" cy="299.5" r="1.0"/><circle cx="146.2" cy="319.7" r="1.0"/><circle cx="158.0" cy="320.7" r="1.0"/><circle cx="147.5" cy="381.8" r="1.0"/><circle cx="159.3" cy="317.5" r="1.0"/><circle cx="161.1" cy="303.8" r="1.0"/><circle cx="163.9" cy="326.8" r="1.0"/><circle cx="165.6" cy="338.2" r="1.0"/><circle cx="100.3" cy="313.2" r="1.0"/><circle cx="150.4" cy="351.7" r="1.0"/><circle cx="159.4" cy="315.8" r="1.0"/><circle cx="158.0" cy="341.5" r="1.0"/><circle cx="132.1" cy="313.8" r="1.0"/><circle cx="144.5" cy="356.6" r="1.0"/><circle cx="164.3" cy="316.1" r="1.0"/><circle cx="151.4" cy="343.4" r="1.0"/><circle cx="131.2" cy="351.8" r="1.0"/><circle cx="153.8" cy="319.1" r="1.0"/><circle cx="111.8" cy="308.7" r="1.0"/><circle cx="149.2" cy="335.0" r="1.0"/><circle cx="147.1" cy="330.9" r="1.0"/><circle cx="156.8" cy="329.8" r="1.0"/><circle cx="149.1" cy="346.9" r="1.0"/><circle cx="155.1" cy="328.9" r="1.0"/><circle cx="169.0" cy="330.4" r="1.0"/><circle cx="186.1" cy="330.1" r="1.0"/><circle cx="168.6" cy="328.5" r="1.0"/><circle cx="163.9" cy="326.3" r="1.0"/><circle cx="177.6" cy="313.6" r="1.0"/><circle cx="160.2" cy="321.0" r="1.0"/><circle cx="155.8" cy="319.6" r="1.0"/><circle cx="106.2" cy="318.7" r="1.0"/><circle cx="168.4" cy="346.7" r="1.0"/><circle cx="173.9" cy="310.2" r="1.0"/><circle cx="161.7" cy="316.3" r="1.0"/><circle cx="155.7" cy="332.0" r="1.0"/><circle cx="184.2" cy="321.9" r="1.0"/><circle cx="149.0" cy="318.2" r="1.0"/><circle cx="161.2" cy="324.7" r="1.0"/><circle cx="167.1" cy="330.7" r="1.0"/><circle cx="152.9" cy="339.8" r="1.0"/><circle cx="150.4" cy="373.3" r="1.0"/><circle cx="163.2" cy="353.0" r="1.0"/><circle cx="147.7" cy="327.6" r="1.0"/><circle cx="149.8" cy="328.6" r="1.0"/><circle cx="159.2" cy="326.7" r="1.0"/><circle cx="117.9" cy="318.2" r="1.0"/><circle cx="139.1" cy="368.1" r="1.0"/><circle cx="182.0" cy="306.2" r="1.0"/><circle cx="157.8" cy="316.4" r="1.0"/><circle cx="158.5" cy="339.0" r="1.0"/><circle cx="128.2" cy="335.2" r="1.0"/><circle cx="148.4" cy="320.2" r="1.0"/><circle cx="127.2" cy="365.0" r="1.0"/><circle cx="153.8" cy="326.5" r="1.0"/><circle cx="151.8" cy="335.5" r="1.0"/><circle cx="151.7" cy="308.5" r="1.0"/><circle cx="122.0" cy="357.8" r="1.0"/><circle cx="152.0" cy="309.5" r="1.0"/><circle cx="157.6" cy="325.7" r="1.0"/><circle cx="142.6" cy="357.0" r="1.0"/><circle cx="150.2" cy="366.6" r="1.0"/><circle cx="143.8" cy="359.4" r="1.0"/><circle cx="163.2" cy="350.6" r="1.0"/><circle cx="169.6" cy="317.8" r="1.0"/><circle cx="183.0" cy="301.3" r="1.0"/><circle cx="150.7" cy="328.5" r="1.0"/><circle cx="157.7" cy="305.7" r="1.0"/><circle cx="151.1" cy="370.0" r="1.0"/><circle cx="173.3" cy="294.4" r="1.0"/><circle cx="156.8" cy="322.5" r="1.0"/><circle cx="138.1" cy="316.2" r="1.0"/><circle cx="155.7" cy="296.7" r="1.0"/><circle cx="147.7" cy="330.9" r="1.0"/><circle cx="177.8" cy="307.0" r="1.0"/><circle cx="186.5" cy="358.7" r="1.0"/><circle cx="157.2" cy="340.5" r="1.0"/><circle cx="184.2" cy="324.6" r="1.0"/><circle cx="140.4" cy="352.0" r="1.0"/><circle cx="141.6" cy="347.9" r="1.0"/><circle cx="162.9" cy="322.5" r="1.0"/><circle cx="152.4" cy="352.5" r="1.0"/><circle cx="153.9" cy="363.4" r="1.0"/><circle cx="150.4" cy="336.9" r="1.0"/><circle cx="158.4" cy="323.8" r="1.0"/><circle cx="146.5" cy="358.9" r="1.0"/><circle cx="160.0" cy="366.1" r="1.0"/><circle cx="162.8" cy="323.6" r="1.0"/><circle cx="164.1" cy="308.1" r="1.0"/><circle cx="154.2" cy="354.7" r="1.0"/><circle cx="146.0" cy="339.2" r="1.0"/><circle cx="158.2" cy="317.8" r="1.0"/><circle cx="153.7" cy="334.0" r="1.0"/><circle cx="140.3" cy="321.9" r="1.0"/><circle cx="156.0" cy="361.9" r="1.0"/><circle cx="163.4" cy="323.4" r="1.0"/><circle cx="157.6" cy="315.7" r="1.0"/><circle cx="153.0" cy="303.3" r="1.0"/><circle cx="166.0" cy="323.2" r="1.0"/><circle cx="177.6" cy="379.8" r="1.0"/><circle cx="158.5" cy="316.9" r="1.0"/><circle cx="156.6" cy="328.7" r="1.0"/><circle cx="143.7" cy="373.2" r="1.0"/><circle cx="158.0" cy="293.5" r="1.0"/><circle cx="158.6" cy="321.0" r="1.0"/><circle cx="149.7" cy="350.1" r="1.0"/><circle cx="109.7" cy="308.9" r="1.0"/><circle cx="162.3" cy="363.2" r="1.0"/><circle cx="149.7" cy="351.3" r="1.0"/><circle cx="140.7" cy="312.6" r="1.0"/><circle cx="158.4" cy="335.3" r="1.0"/><circle cx="176.1" cy="328.4" r="1.0"/><circle cx="161.6" cy="320.7" r="1.0"/><circle cx="170.5" cy="352.8" r="1.0"/><circle cx="149.1" cy="315.2" r="1.0"/><circle cx="145.7" cy="326.5" r="1.0"/><circle cx="172.5" cy="337.3" r="1.0"/><circle cx="172.9" cy="315.3" r="1.0"/><circle cx="163.8" cy="326.4" r="1.0"/><circle cx="161.0" cy="332.0" r="1.0"/><circle cx="160.5" cy="355.2" r="1.0"/><circle cx="152.4" cy="317.3" r="1.0"/><circle cx="173.5" cy="327.1" r="1.0"/><circle cx="165.2" cy="335.2" r="1.0"/><circle cx="163.7" cy="328.5" r="1.0"/><circle cx="162.5" cy="313.8" r="1.0"/><circle cx="168.9" cy="332.3" r="1.0"/><circle cx="163.7" cy="328.8" r="1.0"/><circle cx="166.0" cy="332.7" r="1.0"/><circle cx="147.8" cy="340.6" r="1.0"/><circle cx="163.7" cy="339.3" r="1.0"/><circle cx="179.7" cy="332.3" r="1.0"/><circle cx="154.0" cy="331.2" r="1.0"/><circle cx="157.7" cy="315.0" r="1.0"/><circle cx="167.4" cy="326.1" r="1.0"/><circle cx="168.0" cy="330.1" r="1.0"/><circle cx="164.8" cy="323.0" r="1.0"/><circle cx="143.5" cy="328.7" r="1.0"/><circle cx="163.7" cy="318.1" r="1.0"/><circle cx="147.7" cy="345.2" r="1.0"/><circle cx="151.1" cy="352.3" r="1.0"/><circle cx="164.1" cy="323.1" r="1.0"/><circle cx="156.1" cy="332.2" r="1.0"/><circle cx="166.6" cy="324.9" r="1.0"/><circle cx="166.3" cy="332.6" r="1.0"/><circle cx="165.8" cy="328.5" r="1.0"/><circle cx="150.4" cy="325.0" r="1.0"/><circle cx="152.8" cy="329.1" r="1.0"/><circle cx="148.8" cy="316.1" r="1.0"/><circle cx="153.8" cy="335.4" r="1.0"/><circle cx="148.5" cy="319.4" r="1.0"/><circle cx="152.6" cy="333.8" r="1.0"/><circle cx="156.9" cy="329.1" r="1.0"/><circle cx="149.4" cy="340.2" r="1.0"/><circle cx="145.4" cy="327.4" r="1.0"/><circle cx="146.0" cy="339.4" r="1.0"/><circle cx="163.2" cy="317.0" r="1.0"/><circle cx="159.5" cy="334.6" r="1.0"/><circle cx="168.6" cy="325.0" r="1.0"/><circle cx="168.8" cy="329.8" r="1.0"/><circle cx="155.7" cy="328.4" r="1.0"/><circle cx="165.3" cy="338.4" r="1.0"/><circle cx="145.2" cy="304.4" r="1.0"/><circle cx="180.6" cy="331.3" r="1.0"/><circle cx="170.3" cy="310.4" r="1.0"/><circle cx="156.9" cy="341.5" r="1.0"/><circle cx="147.8" cy="304.9" r="1.0"/><circle cx="162.5" cy="316.1" r="1.0"/><circle cx="141.1" cy="308.4" r="1.0"/><circle cx="151.5" cy="346.5" r="1.0"/><circle cx="166.0" cy="312.8" r="1.0"/><circle cx="159.6" cy="328.9" r="1.0"/><circle cx="154.2" cy="321.4" r="1.0"/><circle cx="167.9" cy="306.9" r="1.0"/><circle cx="149.0" cy="323.7" r="1.0"/><circle cx="161.6" cy="335.2" r="1.0"/><circle cx="154.2" cy="325.5" r="1.0"/><circle cx="150.8" cy="338.4" r="1.0"/><circle cx="163.3" cy="323.4" r="1.0"/><circle cx="149.5" cy="327.7" r="1.0"/><circle cx="177.0" cy="323.2" r="1.0"/><circle cx="153.3" cy="331.6" r="1.0"/><circle cx="177.8" cy="349.4" r="1.0"/><circle cx="148.5" cy="331.8" r="1.0"/><circle cx="164.7" cy="329.8" r="1.0"/><circle cx="147.5" cy="320.5" r="1.0"/><circle cx="146.2" cy="318.9" r="1.0"/><circle cx="160.4" cy="344.4" r="1.0"/><circle cx="165.3" cy="314.8" r="1.0"/><circle cx="146.8" cy="317.1" r="1.0"/><circle cx="170.1" cy="326.5" r="1.0"/><circle cx="151.3" cy="322.7" r="1.0"/><circle cx="160.1" cy="350.1" r="1.0"/><circle cx="162.5" cy="300.4" r="1.0"/><circle cx="164.5" cy="331.8" r="1.0"/><circle cx="141.8" cy="335.8" r="1.0"/><circle cx="174.3" cy="314.7" r="1.0"/><circle cx="164.2" cy="320.2" r="1.0"/><circle cx="154.9" cy="332.6" r="1.0"/><circle cx="149.2" cy="346.3" r="1.0"/><circle cx="142.8" cy="317.0" r="1.0"/><circle cx="146.0" cy="309.4" r="1.0"/><circle cx="164.1" cy="338.8" r="1.0"/><circle cx="155.7" cy="345.1" r="1.0"/><circle cx="148.2" cy="323.7" r="1.0"/><circle cx="153.9" cy="302.1" r="1.0"/><circle cx="173.8" cy="344.3" r="1.0"/><circle cx="155.8" cy="325.3" r="1.0"/><circle cx="153.3" cy="340.5" r="1.0"/><circle cx="171.7" cy="327.1" r="1.0"/><circle cx="163.3" cy="323.3" r="1.0"/><circle cx="159.3" cy="322.4" r="1.0"/><circle cx="153.1" cy="344.5" r="1.0"/><circle cx="144.2" cy="344.1" r="1.0"/><circle cx="147.8" cy="303.0" r="1.0"/><circle cx="154.3" cy="316.8" r="1.0"/><circle cx="156.8" cy="348.0" r="1.0"/><circle cx="162.3" cy="323.4" r="1.0"/><circle cx="164.1" cy="312.0" r="1.0"/><circle cx="161.0" cy="327.7" r="1.0"/><circle cx="161.0" cy="326.4" r="1.0"/><circle cx="149.3" cy="326.5" r="1.0"/><circle cx="138.4" cy="322.1" r="1.0"/><circle cx="154.0" cy="324.0" r="1.0"/><circle cx="149.8" cy="322.4" r="1.0"/><circle cx="152.7" cy="331.4" r="1.0"/><circle cx="156.3" cy="318.3" r="1.0"/><circle cx="147.1" cy="324.3" r="1.0"/><circle cx="148.4" cy="325.9" r="1.0"/><circle cx="157.9" cy="342.6" r="1.0"/><circle cx="160.0" cy="331.9" r="1.0"/><circle cx="152.7" cy="326.3" r="1.0"/><circle cx="163.6" cy="333.8" r="1.0"/><circle cx="156.8" cy="332.3" r="1.0"/><circle cx="149.2" cy="340.1" r="1.0"/><circle cx="159.3" cy="333.4" r="1.0"/><circle cx="176.8" cy="348.2" r="1.0"/><circle cx="152.5" cy="343.1" r="1.0"/><circle cx="170.0" cy="327.1" r="1.0"/><circle cx="172.0" cy="322.8" r="1.0"/><circle cx="173.1" cy="337.7" r="1.0"/><circle cx="151.1" cy="333.5" r="1.0"/><circle cx="178.0" cy="326.5" r="1.0"/><circle cx="160.0" cy="310.6" r="1.0"/><circle cx="156.5" cy="306.5" r="1.0"/><circle cx="156.7" cy="331.6" r="1.0"/><circle cx="164.6" cy="336.5" r="1.0"/><circle cx="159.4" cy="336.8" r="1.0"/><circle cx="157.2" cy="312.8" r="1.0"/><circle cx="171.1" cy="339.5" r="1.0"/><circle cx="152.0" cy="321.5" r="1.0"/><circle cx="149.0" cy="332.1" r="1.0"/><circle cx="166.4" cy="332.4" r="1.0"/><circle cx="165.6" cy="318.4" r="1.0"/><circle cx="169.3" cy="320.8" r="1.0"/><circle cx="148.7" cy="303.8" r="1.0"/><circle cx="169.2" cy="317.1" r="1.0"/><circle cx="163.5" cy="306.9" r="1.0"/><circle cx="175.6" cy="332.6" r="1.0"/><circle cx="147.0" cy="328.3" r="1.0"/><circle cx="161.0" cy="338.1" r="1.0"/><circle cx="156.3" cy="331.7" r="1.0"/><circle cx="143.8" cy="320.3" r="1.0"/><circle cx="152.1" cy="331.6" r="1.0"/><circle cx="169.6" cy="323.1" r="1.0"/><circle cx="154.4" cy="334.6" r="1.0"/><circle cx="152.0" cy="331.2" r="1.0"/><circle cx="167.1" cy="316.2" r="1.0"/><circle cx="168.3" cy="327.6" r="1.0"/><circle cx="168.3" cy="328.2" r="1.0"/><circle cx="151.4" cy="324.1" r="1.0"/><circle cx="158.3" cy="337.9" r="1.0"/><circle cx="168.7" cy="347.3" r="1.0"/><circle cx="152.7" cy="323.4" r="1.0"/><circle cx="151.8" cy="323.6" r="1.0"/><circle cx="166.8" cy="301.7" r="1.0"/><circle cx="173.7" cy="326.1" r="1.0"/><circle cx="148.0" cy="322.6" r="1.0"/><circle cx="134.2" cy="302.7" r="1.0"/><circle cx="145.1" cy="330.9" r="1.0"/><circle cx="149.3" cy="334.4" r="1.0"/><circle cx="157.6" cy="319.2" r="1.0"/><circle cx="164.8" cy="323.3" r="1.0"/><circle cx="157.5" cy="316.5" r="1.0"/><circle cx="152.2" cy="336.4" r="1.0"/><circle cx="160.4" cy="310.1" r="1.0"/><circle cx="149.8" cy="324.0" r="1.0"/><circle cx="158.5" cy="350.0" r="1.0"/><circle cx="152.8" cy="328.2" r="1.0"/><circle cx="184.4" cy="333.0" r="1.0"/><circle cx="166.7" cy="325.9" r="1.0"/><circle cx="151.0" cy="314.1" r="1.0"/><circle cx="149.4" cy="327.2" r="1.0"/><circle cx="154.7" cy="332.3" r="1.0"/><circle cx="143.3" cy="315.8" r="1.0"/><circle cx="152.0" cy="331.5" r="1.0"/><circle cx="151.9" cy="341.9" r="1.0"/><circle cx="167.3" cy="339.9" r="1.0"/><circle cx="154.8" cy="309.4" r="1.0"/><circle cx="151.4" cy="316.4" r="1.0"/><circle cx="146.2" cy="309.0" r="1.0"/><circle cx="147.7" cy="339.9" r="1.0"/><circle cx="158.3" cy="334.6" r="1.0"/><circle cx="156.9" cy="335.7" r="1.0"/><circle cx="169.7" cy="317.5" r="1.0"/><circle cx="152.9" cy="314.2" r="1.0"/><circle cx="169.0" cy="328.5" r="1.0"/><circle cx="161.3" cy="328.8" r="1.0"/><circle cx="158.9" cy="317.8" r="1.0"/><circle cx="139.8" cy="329.2" r="1.0"/><circle cx="146.6" cy="335.0" r="1.0"/><circle cx="165.9" cy="330.2" r="1.0"/><circle cx="172.2" cy="315.6" r="1.0"/><circle cx="160.9" cy="303.3" r="1.0"/><circle cx="166.1" cy="324.6" r="1.0"/><circle cx="155.0" cy="329.5" r="1.0"/><circle cx="155.4" cy="324.6" r="1.0"/><circle cx="152.6" cy="322.7" r="1.0"/><circle cx="168.2" cy="319.6" r="1.0"/><circle cx="162.2" cy="335.8" r="1.0"/><circle cx="156.7" cy="327.0" r="1.0"/><circle cx="155.8" cy="329.0" r="1.0"/><circle cx="164.2" cy="316.4" r="1.0"/><circle cx="162.0" cy="320.5" r="1.0"/><circle cx="151.0" cy="329.5" r="1.0"/><circle cx="175.2" cy="316.0" r="1.0"/><circle cx="161.3" cy="313.1" r="1.0"/><circle cx="159.0" cy="323.8" r="1.0"/><circle cx="172.9" cy="341.4" r="1.0"/><circle cx="168.6" cy="329.8" r="1.0"/><circle cx="158.1" cy="344.4" r="1.0"/><circle cx="164.0" cy="326.1" r="1.0"/><circle cx="148.7" cy="324.0" r="1.0"/><circle cx="152.8" cy="311.6" r="1.0"/><circle cx="137.4" cy="321.0" r="1.0"/><circle cx="170.5" cy="344.1" r="1.0"/><circle cx="140.9" cy="331.4" r="1.0"/><circle cx="165.4" cy="336.0" r="1.0"/><circle cx="151.0" cy="335.7" r="1.0"/><circle cx="149.6" cy="327.5" r="1.0"/><circle cx="157.0" cy="325.2" r="1.0"/><circle cx="161.4" cy="329.0" r="1.0"/><circle cx="164.7" cy="335.3" r="1.0"/><circle cx="175.7" cy="332.9" r="1.0"/><circle cx="162.3" cy="333.3" r="1.0"/><circle cx="167.3" cy="329.4" r="1.0"/><circle cx="153.2" cy="318.7" r="1.0"/><circle cx="165.7" cy="324.6" r="1.0"/><circle cx="160.4" cy="316.8" r="1.0"/><circle cx="154.5" cy="339.2" r="1.0"/><circle cx="158.0" cy="303.4" r="1.0"/><circle cx="158.3" cy="325.1" r="1.0"/><circle cx="160.7" cy="355.1" r="1.0"/><circle cx="162.7" cy="323.7" r="1.0"/><circle cx="154.1" cy="314.5" r="1.0"/><circle cx="151.9" cy="327.4" r="1.0"/><circle cx="166.0" cy="342.4" r="1.0"/><circle cx="142.8" cy="325.8" r="1.0"/><circle cx="153.0" cy="334.7" r="1.0"/><circle cx="173.6" cy="328.7" r="1.0"/><circle cx="133.2" cy="323.3" r="1.0"/><circle cx="152.3" cy="363.8" r="1.0"/><circle cx="165.4" cy="328.4" r="1.0"/><circle cx="143.2" cy="321.4" r="1.0"/><circle cx="183.6" cy="322.0" r="1.0"/><circle cx="134.3" cy="332.0" r="1.0"/><circle cx="172.5" cy="332.3" r="1.0"/><circle cx="173.7" cy="336.5" r="1.0"/><circle cx="167.6" cy="329.2" r="1.0"/><circle cx="156.8" cy="311.1" r="1.0"/><circle cx="162.3" cy="333.7" r="1.0"/><circle cx="150.4" cy="324.0" r="1.0"/><circle cx="166.6" cy="324.3" r="1.0"/><circle cx="148.3" cy="310.5" r="1.0"/><circle cx="156.3" cy="321.0" r="1.0"/><circle cx="168.4" cy="319.2" r="1.0"/><circle cx="148.3" cy="327.2" r="1.0"/><circle cx="155.4" cy="310.9" r="1.0"/><circle cx="160.5" cy="328.2" r="1.0"/><circle cx="146.2" cy="329.0" r="1.0"/><circle cx="170.0" cy="314.7" r="1.0"/><circle cx="162.1" cy="320.4" r="1.0"/><circle cx="144.5" cy="317.7" r="1.0"/><circle cx="158.5" cy="338.0" r="1.0"/><circle cx="151.5" cy="298.5" r="1.0"/><circle cx="152.7" cy="323.7" r="1.0"/><circle cx="159.6" cy="308.5" r="1.0"/><circle cx="152.2" cy="322.6" r="1.0"/><circle cx="168.1" cy="337.3" r="1.0"/><circle cx="152.2" cy="320.3" r="1.0"/><circle cx="168.2" cy="329.2" r="1.0"/><circle cx="158.5" cy="317.9" r="1.0"/><circle cx="167.0" cy="349.9" r="1.0"/><circle cx="153.8" cy="338.1" r="1.0"/><circle cx="154.1" cy="340.6" r="1.0"/><circle cx="148.0" cy="312.3" r="1.0"/><circle cx="164.4" cy="314.9" r="1.0"/><circle cx="167.8" cy="340.0" r="1.0"/><circle cx="179.0" cy="325.4" r="1.0"/><circle cx="171.2" cy="324.6" r="1.0"/><circle cx="161.3" cy="331.4" r="1.0"/><circle cx="156.9" cy="313.2" r="1.0"/><circle cx="162.6" cy="336.5" r="1.0"/><circle cx="158.6" cy="327.8" r="1.0"/><circle cx="172.8" cy="333.1" r="1.0"/><circle cx="167.9" cy="319.9" r="1.0"/><circle cx="151.0" cy="333.5" r="1.0"/><circle cx="152.4" cy="319.5" r="1.0"/><circle cx="171.9" cy="338.6" r="1.0"/><circle cx="161.8" cy="340.6" r="1.0"/><circle cx="156.7" cy="338.1" r="1.0"/><circle cx="170.2" cy="333.5" r="1.0"/><circle cx="155.2" cy="334.9" r="1.0"/><circle cx="156.2" cy="296.5" r="1.0"/><circle cx="154.5" cy="337.2" r="1.0"/><circle cx="140.3" cy="324.4" r="1.0"/><circle cx="167.1" cy="328.7" r="1.0"/><circle cx="147.4" cy="324.3" r="1.0"/><circle cx="153.5" cy="311.6" r="1.0"/><circle cx="151.8" cy="321.4" r="1.0"/><circle cx="165.8" cy="335.2" r="1.0"/><circle cx="158.2" cy="343.9" r="1.0"/><circle cx="159.0" cy="320.4" r="1.0"/><circle cx="142.9" cy="317.2" r="1.0"/><circle cx="158.1" cy="344.3" r="1.0"/><circle cx="144.9" cy="317.5" r="1.0"/><circle cx="161.8" cy="351.4" r="1.0"/><circle cx="162.4" cy="328.2" r="1.0"/><circle cx="158.7" cy="317.4" r="1.0"/><circle cx="178.3" cy="338.9" r="1.0"/><circle cx="163.9" cy="347.1" r="1.0"/><circle cx="164.6" cy="311.1" r="1.0"/><circle cx="160.3" cy="345.5" r="1.0"/><circle cx="157.1" cy="324.4" r="1.0"/><circle cx="168.1" cy="344.7" r="1.0"/><circle cx="169.4" cy="323.2" r="1.0"/><circle cx="146.5" cy="309.5" r="1.0"/><circle cx="168.9" cy="333.4" r="1.0"/><circle cx="163.8" cy="338.3" r="1.0"/><circle cx="168.0" cy="351.7" r="1.0"/><circle cx="163.3" cy="347.4" r="1.0"/><circle cx="147.1" cy="335.6" r="1.0"/><circle cx="147.8" cy="324.9" r="1.0"/><circle cx="176.2" cy="321.6" r="1.0"/><circle cx="161.3" cy="324.2" r="1.0"/><circle cx="145.4" cy="318.0" r="1.0"/><circle cx="162.2" cy="324.4" r="1.0"/><circle cx="155.5" cy="298.3" r="1.0"/><circle cx="141.4" cy="329.7" r="1.0"/><circle cx="137.1" cy="327.3" r="1.0"/><circle cx="143.7" cy="357.1" r="1.0"/><circle cx="161.5" cy="336.3" r="1.0"/><circle cx="158.4" cy="322.1" r="1.0"/><circle cx="156.5" cy="334.1" r="1.0"/><circle cx="161.6" cy="313.5" r="1.0"/><circle cx="164.6" cy="320.7" r="1.0"/><circle cx="138.9" cy="306.1" r="1.0"/><circle cx="156.0" cy="344.1" r="1.0"/><circle cx="151.0" cy="334.4" r="1.0"/><circle cx="147.2" cy="314.1" r="1.0"/><circle cx="153.7" cy="326.9" r="1.0"/><circle cx="157.7" cy="338.5" r="1.0"/><circle cx="156.4" cy="333.3" r="1.0"/><circle cx="145.1" cy="332.0" r="1.0"/><circle cx="154.3" cy="317.7" r="1.0"/><circle cx="178.1" cy="320.3" r="1.0"/><circle cx="148.9" cy="328.7" r="1.0"/><circle cx="142.9" cy="338.2" r="1.0"/><circle cx="161.5" cy="318.1" r="1.0"/><circle cx="164.6" cy="314.7" r="1.0"/><circle cx="163.3" cy="340.8" r="1.0"/><circle cx="148.3" cy="316.9" r="1.0"/><circle cx="168.4" cy="340.0" r="1.0"/><circle cx="151.4" cy="330.4" r="1.0"/><circle cx="148.1" cy="337.7" r="1.0"/><circle cx="153.1" cy="347.7" r="1.0"/><circle cx="157.9" cy="335.5" r="1.0"/><circle cx="165.7" cy="336.5" r="1.0"/><circle cx="164.8" cy="317.0" r="1.0"/><circle cx="158.7" cy="319.6" r="1.0"/><circle cx="167.8" cy="335.0" r="1.0"/><circle cx="159.7" cy="345.2" r="1.0"/><circle cx="167.4" cy="343.6" r="1.0"/><circle cx="145.6" cy="354.2" r="1.0"/><circle cx="143.9" cy="331.2" r="1.0"/><circle cx="166.3" cy="329.9" r="1.0"/><circle cx="145.7" cy="339.2" r="1.0"/><circle cx="156.0" cy="327.8" r="1.0"/><circle cx="158.0" cy="326.9" r="1.0"/><circle cx="154.3" cy="315.6" r="1.0"/><circle cx="154.6" cy="339.0" r="1.0"/><circle cx="172.1" cy="315.3" r="1.0"/><circle cx="134.9" cy="333.5" r="1.0"/><circle cx="167.3" cy="311.3" r="1.0"/><circle cx="180.7" cy="340.2" r="1.0"/><circle cx="159.1" cy="315.8" r="1.0"/><circle cx="158.7" cy="337.3" r="1.0"/><circle cx="165.8" cy="309.3" r="1.0"/><circle cx="176.3" cy="322.5" r="1.0"/><circle cx="147.6" cy="341.2" r="1.0"/><circle cx="159.7" cy="318.3" r="1.0"/><circle cx="157.1" cy="328.4" r="1.0"/><circle cx="164.2" cy="322.1" r="1.0"/><circle cx="160.4" cy="301.0" r="1.0"/><circle cx="165.2" cy="331.1" r="1.0"/><circle cx="154.9" cy="332.6" r="1.0"/><circle cx="159.4" cy="314.9" r="1.0"/><circle cx="152.5" cy="334.2" r="1.0"/><circle cx="152.6" cy="318.4" r="1.0"/><circle cx="157.6" cy="316.1" r="1.0"/><circle cx="157.6" cy="327.7" r="1.0"/><circle cx="147.8" cy="319.8" r="1.0"/><circle cx="173.8" cy="354.0" r="1.0"/><circle cx="157.6" cy="309.7" r="1.0"/><circle cx="145.8" cy="336.1" r="1.0"/><circle cx="169.4" cy="339.0" r="1.0"/><circle cx="151.8" cy="304.8" r="1.0"/><circle cx="163.7" cy="307.7" r="1.0"/><circle cx="158.7" cy="334.1" r="1.0"/><circle cx="161.3" cy="322.1" r="1.0"/><circle cx="160.5" cy="332.0" r="1.0"/><circle cx="153.4" cy="340.7" r="1.0"/><circle cx="159.3" cy="323.3" r="1.0"/><circle cx="178.2" cy="315.4" r="1.0"/><circle cx="137.6" cy="296.2" r="1.0"/><circle cx="159.5" cy="330.0" r="1.0"/><circle cx="163.0" cy="316.9" r="1.0"/><circle cx="148.9" cy="331.2" r="1.0"/><circle cx="145.9" cy="330.3" r="1.0"/><circle cx="179.4" cy="311.7" r="1.0"/><circle cx="155.4" cy="347.4" r="1.0"/><circle cx="178.7" cy="340.1" r="1.0"/><circle cx="164.0" cy="337.4" r="1.0"/><circle cx="159.6" cy="314.0" r="1.0"/><circle cx="163.4" cy="322.9" r="1.0"/><circle cx="164.9" cy="321.3" r="1.0"/><circle cx="170.1" cy="322.8" r="1.0"/><circle cx="163.0" cy="314.7" r="1.0"/><circle cx="160.3" cy="332.6" r="1.0"/><circle cx="160.6" cy="330.2" r="1.0"/><circle cx="171.7" cy="331.8" r="1.0"/><circle cx="166.7" cy="321.8" r="1.0"/><circle cx="149.4" cy="342.4" r="1.0"/><circle cx="152.9" cy="329.8" r="1.0"/><circle cx="162.0" cy="296.1" r="1.0"/><circle cx="153.0" cy="320.2" r="1.0"/><circle cx="155.3" cy="326.9" r="1.0"/><circle cx="149.8" cy="338.7" r="1.0"/><circle cx="156.4" cy="324.1" r="1.0"/><circle cx="162.9" cy="324.7" r="1.0"/><circle cx="168.4" cy="320.0" r="1.0"/><circle cx="159.0" cy="335.3" r="1.0"/><circle cx="178.6" cy="322.5" r="1.0"/><circle cx="158.2" cy="320.7" r="1.0"/><circle cx="168.4" cy="334.0" r="1.0"/><circle cx="163.6" cy="321.5" r="1.0"/><circle cx="154.2" cy="308.3" r="1.0"/><circle cx="132.1" cy="334.8" r="1.0"/><circle cx="157.4" cy="319.5" r="1.0"/><circle cx="160.6" cy="331.7" r="1.0"/><circle cx="177.2" cy="331.9" r="1.0"/><circle cx="145.8" cy="341.4" r="1.0"/><circle cx="177.0" cy="339.6" r="1.0"/><circle cx="156.5" cy="321.0" r="1.0"/><circle cx="165.8" cy="325.7" r="1.0"/><circle cx="134.8" cy="312.8" r="1.0"/><circle cx="160.2" cy="346.9" r="1.0"/><circle cx="155.6" cy="332.7" r="1.0"/><circle cx="165.4" cy="343.6" r="1.0"/><circle cx="159.8" cy="323.9" r="1.0"/><circle cx="148.0" cy="304.0" r="1.0"/><circle cx="167.9" cy="345.2" r="1.0"/><circle cx="165.5" cy="328.7" r="1.0"/><circle cx="164.6" cy="329.1" r="1.0"/><circle cx="168.5" cy="328.2" r="1.0"/><circle cx="169.4" cy="335.0" r="1.0"/><circle cx="158.7" cy="333.7" r="1.0"/><circle cx="146.0" cy="309.3" r="1.0"/><circle cx="145.7" cy="340.1" r="1.0"/><circle cx="171.7" cy="321.5" r="1.0"/><circle cx="165.6" cy="322.2" r="1.0"/><circle cx="159.9" cy="347.5" r="1.0"/><circle cx="154.8" cy="338.2" r="1.0"/><circle cx="159.2" cy="323.7" r="1.0"/><circle cx="159.1" cy="306.3" r="1.0"/><circle cx="155.7" cy="329.5" r="1.0"/><circle cx="152.3" cy="333.8" r="1.0"/><circle cx="179.5" cy="326.7" r="1.0"/><circle cx="161.1" cy="313.3" r="1.0"/><circle cx="153.1" cy="318.5" r="1.0"/><circle cx="146.5" cy="313.2" r="1.0"/></g><g fill="#ff0000"><circle cx="261.5" cy="270.9" r="1.0"/><circle cx="267.4" cy="282.3" r="1.0"/><circle cx="239.1" cy="280.2" r="1.0"/><circle cx="251.7" cy="288.9" r="1.0"/><circle cx="220.4" cy="293.9" r="1.0"/><circle cx="229.9" cy="299.9" r="1.0"/><circle cx="184.3" cy="299.4" r="1.0"/><circle cx="199.7" cy="310.8" r="1.0"/><circle cx="197.3" cy="313.9" r="1.0"/><circle cx="202.1" cy="315.3" r="1.0"/><circle cx="212.3" cy="309.9" r="1.0"/><circle cx="212.3" cy="315.3" r="1.0"/><circle cx="228.2" cy="312.2" r="1.0"/><circle cx="219.2" cy="320.1" r="1.0"/><circle cx="248.2" cy="309.4" r="1.0"/><circle cx="259.8" cy="310.8" r="1.0"/><circle cx="263.1" cy="308.2" r="1.0"/><circle cx="262.7" cy="313.7" r="1.0"/><circle cx="205.6" cy="327.4" r="1.0"/><circle cx="211.6" cy="329.8" r="1.0"/><circle cx="228.7" cy="328.6" r="1.0"/><circle cx="232.2" cy="327.4" r="1.0"/><circle cx="253.9" cy="330.8" r="1.0"/><circle cx="206.1" cy="338.1" r="1.0"/><circle cx="213.5" cy="336.9" r="1.0"/><circle cx="232.5" cy="339.5" r="1.0"/><circle cx="200.4" cy="344.8" r="1.0"/><circle cx="215.1" cy="343.4" r="1.0"/><circle cx="221.1" cy="342.6" r="1.0"/><circle cx="219.2" cy="347.6" r="1.0"/><circle cx="173.3" cy="348.1" r="1.0"/><circle cx="213.3" cy="352.1" r="1.0"/><circle cx="182.8" cy="353.7" r="1.0"/><circle cx="181.0" cy="356.0" r="1.0"/><circle cx="201.2" cy="355.1" r="1.0"/><circle cx="216.6" cy="354.2" r="1.0"/><circle cx="214.9" cy="355.1" r="1.0"/><circle cx="215.7" cy="356.4" r="1.0"/><circle cx="209.5" cy="357.8" r="1.0"/><circle cx="204.4" cy="359.2" r="1.0"/><circle cx="205.1" cy="360.1" r="1.0"/><circle cx="197.8" cy="360.8" r="1.0"/><circle cx="202.8" cy="362.3" r="1.0"/><circle cx="201.0" cy="367.8" r="1.0"/><circle cx="231.1" cy="361.4" r="1.0"/><circle cx="227.3" cy="365.5" r="1.0"/><circle cx="239.8" cy="363.7" r="1.0"/><circle cx="239.1" cy="369.9" r="1.0"/><circle cx="229.6" cy="372.0" r="1.0"/><circle cx="108.7" cy="291.9" r="1.0"/><circle cx="109.8" cy="291.4" r="1.0"/><circle cx="113.7" cy="292.7" r="1.0"/><circle cx="112.9" cy="296.3" r="1.0"/><circle cx="93.4" cy="318.9" r="1.0"/><circle cx="96.8" cy="339.6" r="1.0"/><circle cx="118.3" cy="325.9" r="1.0"/><circle cx="116.0" cy="333.4" r="1.0"/><circle cx="126.1" cy="316.3" r="1.0"/><circle cx="133.1" cy="314.2" r="1.0"/><circle cx="135.4" cy="314.5" r="1.0"/><circle cx="142.4" cy="331.8" r="1.0"/><circle cx="155.4" cy="326.1" r="1.0"/><circle cx="128.4" cy="350.5" r="1.0"/><circle cx="128.9" cy="360.6" r="1.0"/><circle cx="134.1" cy="363.2" r="1.0"/><circle cx="151.2" cy="363.7" r="1.0"/></g>
<text x="53.4" y="438.3" font-size="16" text-anchor="end" >−8</text><text x="89.1" y="438.3" font-size="16" text-anchor="end" >−6</text><text x="124.8" y="438.3" font-size="16" text-anchor="end" >−4</text><text x="160.6" y="438.3" font-size="16" text-anchor="end" >−2</text><text x="196.3" y="438.3" font-size="16" text-anchor="end" >0</text><text x="232.1" y="438.3" font-size="16" text-anchor="end" >2</text><text x="267.8" y="438.3" font-size="16" text-anchor="end" >4</text>
<text x="44.3" y="407.3" font-size="16" text-anchor="end" >−4</text><text x="44.3" y="371.9" font-size="16" text-anchor="end" >−2</text><text x="44.3" y="336.5" font-size="16" text-anchor="end" >0</text><text x="44.3" y="301.1" font-size="16" text-anchor="end" >2</text><text x="44.3" y="265.7" font-size="16" text-anchor="end" >4</text>
<text transform="translate(17.8,314.4) rotate(-90)" font-size="16.3" text-anchor="middle">PC 2 (Å)</text>
<text x="164.2" y="458.7" font-size="16.3" text-anchor="middle" >PC 1 (Å)</text>
<text transform="translate(2.6,232.9)" font-style="italic" font-size="13.6">(</text><text transform="translate(7.2,232.9) scale(1.08,1)" font-style="italic" font-size="11.6">C</text><text transform="translate(16.9,232.9)" font-style="italic" font-size="13.6">)</text>
<clipPath id="cb"><rect x="337.0" y="3.4" width="210.0" height="176.5"/></clipPath><rect x="337.0" y="3.4" width="210.0" height="176.5" fill="#800000"/><g clip-path="url(#cb)" shape-rendering="geometricPrecision"><path fill="#960000" d="M495.2,12.7L498.2,12.3L501.8,12.4L507.8,13.4L512.8,15.4L513.8,15.2L519.2,12.4L520.2,12.5L521.2,13.1L524.6,18.2L527.8,34.7L528.8,38.2L531.1,42.2L534.8,44.7L535.7,45.8L535.7,47.2L533.8,50.2L533.8,51.4L534.6,52.8L538.7,56.2L543.8,58.4L544.6,59.8L544.3,60.8L543.5,61.8L536.6,67.2L535.8,68.4L535.4,69.8L535.5,70.8L537.8,75.3L539.6,78.2L539.8,79.2L539.3,80.2L538.8,80.7L534.7,82.8L530.8,91.9L530.8,93.3L533.2,95.3L533.9,96.2L533.8,97.8L532.8,98.9L528.8,102.1L523.9,104.2L519.6,106.8L516.6,112.2L513.2,115.0L511.2,116.1L504.7,117.8L501.8,119.8L501.2,121.2L500.6,129.2L499.9,133.8L499.6,135.8L498.9,136.8L494.8,139.6L492.2,140.9L477.7,142.8L473.7,144.2L472.8,145.1L470.0,149.2L465.8,153.2L464.2,153.1L460.1,150.2L458.1,149.2L457.2,149.1L453.8,150.6L450.2,154.6L448.8,155.3L447.8,155.0L441.7,150.8L436.8,149.6L433.2,147.2L432.1,147.2L426.8,148.9L421.2,149.5L414.7,143.8L413.2,143.6L411.2,144.8L407.3,150.2L408.3,158.2L407.8,159.6L406.8,160.0L405.8,159.8L400.6,152.8L399.7,152.3L398.8,152.7L397.8,153.4L392.0,160.8L388.8,164.0L378.8,172.4L376.8,173.6L375.2,173.2L372.2,171.5L367.2,167.8L361.8,165.1L355.2,160.6L353.1,156.8L352.9,155.2L355.8,146.9L357.2,141.3L357.3,140.2L355.2,136.6L354.7,136.2L350.8,135.3L349.4,134.2L349.1,133.2L349.3,132.2L351.4,126.8L350.2,122.6L349.8,121.6L348.2,120.2L342.2,120.6L337.2,118.3L336.5,118.3L336.5,103.3L337.2,103.3L338.1,93.2L338.8,90.8L338.3,78.8L339.6,63.2L340.5,55.8L342.2,46.6L343.1,37.8L344.9,30.2L345.8,28.8L350.2,24.3L354.8,20.5L357.2,18.9L358.8,18.4L359.8,18.8L364.8,23.2L366.8,24.3L368.8,23.9L373.8,20.5L376.2,19.5L377.8,19.5L379.1,20.8L380.1,22.8L379.9,23.8L377.9,27.8L378.2,28.8L379.8,30.0L382.2,30.3L386.6,30.2L388.8,29.3L389.2,28.8L390.4,22.8L393.2,20.0L395.8,19.1L400.8,18.4L404.8,19.5L406.3,20.2L407.1,21.2L410.2,28.3L411.5,29.2L414.2,30.2L421.5,30.2L431.2,26.7L432.8,27.1L435.8,29.2L441.8,30.1L443.2,29.2L443.8,28.4L446.4,20.8L447.8,19.9L449.2,19.8L450.2,19.9L451.3,20.8L454.2,29.0L457.5,31.8L458.8,32.3L466.2,32.3L467.5,31.8L471.8,28.8L479.8,21.0L485.8,15.9L490.8,13.4ZM483.2,145.2L484.2,145.0L485.2,145.6L488.4,148.8L488.8,149.8L488.1,151.2L485.2,154.1L484.2,154.7L483.2,154.5L482.2,153.7L479.4,150.8L479.1,149.8L480.0,148.2Z"/>
<path fill="#b70000" d="M496.2,13.7L500.8,13.5L506.8,14.4L513.2,16.7L519.2,13.7L520.0,13.8L520.7,14.2L523.5,18.8L527.3,37.8L530.2,43.2L533.8,45.4L534.5,46.2L534.4,47.2L532.4,50.2L532.8,52.2L533.8,53.5L538.2,57.3L542.7,59.2L543.1,59.8L543.1,60.2L542.3,61.2L535.2,66.9L534.4,68.8L534.2,70.2L534.4,71.2L538.2,78.2L538.4,79.2L537.8,80.0L534.7,81.2L533.8,82.0L529.6,91.8L529.4,92.8L529.6,93.8L532.5,96.2L532.6,97.2L528.2,101.0L523.2,103.3L519.0,105.8L518.2,106.8L515.5,111.8L512.8,114.0L510.8,115.0L504.1,116.8L500.8,119.2L500.1,121.2L499.5,128.8L498.7,134.2L498.4,135.2L497.8,136.2L492.2,139.6L477.2,141.7L473.1,143.2L471.9,144.2L469.2,148.4L466.2,151.4L465.2,152.0L464.2,151.8L459.7,148.8L457.2,147.9L453.2,149.5L449.8,153.4L448.8,154.0L447.8,153.6L442.2,149.7L436.8,148.3L433.2,146.0L432.2,146.0L426.8,147.7L421.8,148.3L420.8,147.8L416.5,143.8L414.8,142.5L413.7,142.2L411.4,143.2L410.2,144.1L406.2,149.8L406.1,151.2L407.0,157.2L406.8,158.4L406.2,158.4L405.8,158.0L400.9,151.2L400.2,150.9L399.2,151.2L396.8,152.8L391.3,159.8L387.8,163.4L378.3,171.3L376.8,172.3L375.8,172.1L372.2,170.1L367.2,166.4L362.2,164.0L356.2,159.9L354.4,156.8L354.1,155.2L356.8,147.2L358.3,141.8L358.5,140.2L356.7,136.8L355.8,135.5L351.2,134.2L350.4,133.2L352.6,126.8L351.1,121.8L349.8,120.0L348.2,118.9L342.8,119.5L337.8,117.2L336.5,117.0L336.5,111.7L337.2,111.7L337.5,110.8L339.2,93.8L339.9,91.2L339.4,79.2L341.2,58.8L343.4,46.8L344.3,37.8L346.0,30.8L346.9,29.2L350.8,25.4L354.2,22.4L358.2,19.8L359.2,20.0L363.5,23.8L365.8,25.3L366.8,25.6L368.7,25.2L373.2,22.2L376.8,20.7L377.8,21.0L378.8,22.8L378.6,23.8L376.6,27.8L376.8,28.8L378.2,30.5L379.2,31.1L381.8,31.4L386.8,31.4L389.4,30.2L390.2,29.4L391.3,23.8L392.2,22.4L394.8,20.5L400.2,19.6L402.8,20.1L405.7,21.2L409.5,29.2L410.2,29.9L413.7,31.2L421.8,31.3L431.2,27.9L432.2,28.2L435.8,30.4L441.8,31.3L443.8,30.3L444.6,29.2L447.3,21.8L447.8,21.2L449.2,21.0L450.5,21.8L453.2,29.6L456.9,32.8L458.8,33.4L466.2,33.3L467.9,32.8L472.8,29.4L480.2,22.0L486.2,17.0L491.8,14.3ZM376.1,164.2L375.7,164.8L375.8,165.2L376.8,165.9L377.2,165.7L377.7,164.8L377.4,164.2L376.8,164.0ZM483.2,146.7L483.8,146.4L484.8,146.8L486.8,148.8L487.4,149.8L486.9,150.8L484.2,153.2L483.8,153.2L482.8,152.5L481.0,150.8L480.5,149.8L481.1,148.8Z"/>
<path fill="#d90000" d="M498.2,14.2L500.8,14.2L507.0,15.2L512.2,17.4L513.2,17.6L519.2,14.8L520.2,15.3L522.6,19.2L526.6,38.2L529.6,43.8L533.2,46.2L533.4,46.8L531.5,50.2L532.2,52.8L533.2,54.2L537.2,57.7L538.8,58.7L541.3,59.8L541.6,60.2L540.8,61.2L534.8,66.3L534.1,67.2L533.6,68.8L533.4,70.2L533.6,71.2L537.3,78.7L537.0,79.2L533.2,81.2L528.8,91.7L528.6,93.2L528.9,94.2L531.1,96.2L531.5,96.8L531.4,97.2L527.8,100.4L522.2,102.9L518.4,105.2L517.6,106.2L514.9,111.2L512.4,113.2L510.4,114.2L503.8,116.1L500.0,118.8L499.4,120.8L498.7,128.2L497.8,133.8L497.2,135.4L491.8,138.8L477.2,140.9L472.8,142.5L471.2,143.7L468.6,147.8L465.2,150.9L464.2,150.7L460.2,148.1L458.2,147.2L457.2,147.0L452.8,148.8L448.8,152.9L447.8,152.5L442.8,149.0L437.2,147.6L433.2,145.1L426.8,146.9L421.8,147.5L415.5,142.2L414.2,141.6L413.2,141.7L410.8,142.9L409.8,143.6L405.5,149.2L405.2,150.2L405.6,154.2L405.4,155.2L404.8,154.9L400.8,150.1L399.8,150.1L397.8,151.1L396.2,152.2L390.2,159.6L387.6,162.2L376.8,171.0L375.8,170.8L372.9,169.2L367.8,165.5L363.1,163.2L357.0,159.2L355.3,156.2L355.1,155.2L357.6,147.8L359.3,140.2L357.3,136.2L356.2,134.9L351.5,133.2L351.4,132.2L353.4,126.8L351.7,121.2L350.2,119.4L348.8,118.2L342.8,118.5L338.2,116.2L337.5,115.2L338.5,111.2L340.1,93.8L340.7,91.8L340.2,79.2L342.0,58.8L344.1,47.2L345.2,37.8L346.8,31.2L347.8,29.6L351.7,25.8L356.0,22.2L358.2,20.9L359.3,21.2L361.8,23.5L365.2,26.0L366.8,26.4L369.2,25.9L374.0,22.8L376.8,21.7L377.5,22.2L377.8,23.2L375.9,27.2L375.7,28.2L376.2,29.2L377.8,31.0L378.8,31.7L381.8,32.1L387.2,32.0L390.2,30.6L391.0,29.8L392.1,24.2L392.8,23.1L395.2,21.3L400.2,20.5L404.8,21.8L405.3,22.2L409.0,29.8L410.2,30.7L413.2,31.9L415.2,32.1L422.2,32.0L431.2,28.8L435.8,31.2L441.8,32.0L443.8,31.1L445.2,29.7L447.8,22.9L448.2,22.2L448.8,22.0L449.8,22.5L452.7,30.2L456.8,33.4L458.2,34.0L466.8,33.8L468.8,32.8L473.1,29.8L480.8,22.5L486.7,17.7L491.8,15.2ZM376.0,163.8L375.4,164.2L375.2,165.2L376.2,166.5L377.2,166.4L378.0,165.8L378.4,164.8L377.2,163.6ZM483.2,147.7L483.8,147.4L484.8,147.8L486.4,149.8L485.9,150.8L484.2,152.2L483.2,151.9L481.7,150.2L481.7,149.2Z"/>
<path fill="#fb0000" d="M498.2,15.2L500.8,15.2L506.8,16.2L513.2,19.0L514.8,18.8L518.2,17.4L519.3,17.8L520.8,20.4L525.3,38.2L528.3,44.2L531.2,47.1L530.2,50.2L530.9,52.8L532.2,54.8L538.2,60.8L537.7,61.8L533.6,65.8L532.7,68.2L532.5,71.2L534.9,77.2L535.0,78.2L532.1,80.8L528.0,91.2L527.9,94.2L529.5,96.8L529.5,97.2L526.8,99.7L521.8,102.1L517.8,104.5L516.7,105.8L514.2,110.3L511.8,112.4L510.3,113.3L503.2,115.3L499.3,118.2L498.4,120.8L497.0,130.2L496.4,133.2L495.8,134.5L492.3,136.9L490.8,137.5L484.8,138.7L476.8,139.8L471.8,141.6L470.3,142.8L467.2,147.0L465.2,148.7L464.2,148.6L459.3,146.3L457.2,145.9L452.2,147.8L449.2,150.4L448.2,150.8L443.0,147.8L437.8,146.4L434.2,144.4L433.2,144.1L426.2,146.2L422.2,146.6L415.7,141.8L414.2,141.1L413.2,141.1L410.3,142.4L409.0,143.2L405.9,146.8L403.5,150.2L402.8,150.1L400.8,148.9L396.8,150.5L388.8,158.6L385.8,161.0L380.2,164.8L379.8,164.9L377.2,163.2L376.2,163.2L374.4,164.8L374.2,166.3L369.2,163.2L363.8,160.6L358.8,157.3L357.8,155.8L357.7,154.8L359.1,148.2L360.2,140.2L357.2,134.6L356.2,133.8L353.6,132.8L353.1,132.2L353.1,131.2L354.3,126.8L352.6,121.2L351.7,119.8L349.2,117.4L347.8,117.0L342.8,116.8L340.3,115.2L339.8,114.2L341.1,94.2L341.8,92.2L341.2,79.7L343.0,59.2L345.1,47.2L346.4,38.2L348.4,31.8L349.5,30.2L354.2,25.9L357.2,23.6L358.2,23.2L364.8,27.0L366.2,27.5L369.8,27.0L373.8,24.8L374.8,24.5L375.0,25.2L374.5,27.2L374.6,28.8L377.8,32.1L381.8,32.8L387.2,32.7L390.8,31.1L391.7,30.2L393.2,24.9L394.1,23.8L395.8,22.7L400.2,22.1L402.8,22.6L404.1,23.2L408.8,30.6L413.8,32.7L422.2,33.0L431.2,30.3L435.2,32.1L442.2,32.6L445.6,30.8L448.8,25.6L449.2,25.8L449.8,26.6L451.9,30.8L456.8,34.2L458.8,34.5L466.3,34.2L467.9,33.8L473.2,30.2L480.8,23.4L487.1,18.8L492.6,16.2ZM483.2,148.7L484.2,148.5L485.4,149.8L485.2,150.3L484.2,151.2L483.2,150.9L482.6,150.2L482.5,149.8Z"/>
<path fill="#ff1e00" d="M499.8,16.2L506.2,17.3L513.2,20.9L514.8,21.1L517.2,20.7L518.2,21.1L523.8,38.8L526.8,44.8L528.8,47.2L528.7,50.2L529.4,52.8L530.7,55.2L535.0,60.2L535.2,61.2L532.6,64.8L531.9,66.2L531.3,71.2L532.9,77.2L530.8,80.2L526.9,91.2L526.7,94.2L527.4,97.2L525.8,98.7L516.9,103.8L516.0,104.8L513.2,109.5L510.8,111.7L502.7,114.5L498.7,117.2L497.6,119.2L495.6,129.2L494.2,133.2L490.2,135.8L484.2,137.2L476.3,138.4L470.8,140.5L469.2,141.6L465.8,145.8L464.8,146.3L458.8,144.6L457.2,144.5L451.8,146.4L448.2,148.5L447.2,148.3L443.2,146.2L438.2,145.0L433.8,143.0L432.2,143.2L425.8,145.2L422.2,145.5L415.8,141.2L414.2,140.5L413.2,140.6L408.8,142.2L405.7,144.8L403.2,147.7L400.2,147.7L395.8,149.8L386.8,157.2L378.8,162.8L376.8,162.6L374.8,163.4L373.8,163.5L369.2,160.2L361.6,155.8L361.1,155.2L360.9,154.2L361.4,141.8L361.2,139.8L357.9,133.8L354.7,131.3L355.3,126.8L353.2,120.5L352.2,118.9L349.8,116.2L347.8,115.5L343.8,114.8L342.7,114.2L342.2,113.2L342.5,94.8L343.1,92.2L342.4,79.8L344.2,59.2L347.9,38.8L350.2,32.8L351.2,31.3L355.2,27.8L357.2,26.3L358.2,26.0L365.2,28.7L369.2,28.6L372.2,27.9L374.0,30.2L377.8,33.1L383.8,33.8L386.8,33.6L388.8,33.0L392.1,31.2L394.8,25.9L395.8,24.8L396.8,24.4L400.2,24.0L401.8,24.2L402.9,24.8L408.1,31.2L413.8,33.5L422.8,34.1L428.2,33.0L430.8,32.1L435.2,33.2L442.2,33.2L446.2,31.8L448.8,29.4L451.8,32.2L456.8,34.9L459.8,35.1L466.2,34.5L468.2,33.9L473.2,30.8L481.2,24.0L485.8,21.0L492.8,17.8Z"/>
<path fill="#ff4000" d="M498.2,17.7L501.2,17.4L505.3,18.2L507.4,19.2L512.2,22.7L516.2,23.8L516.8,24.1L519.8,31.5L522.4,39.2L525.3,45.2L526.9,47.8L527.3,51.2L528.3,53.8L529.3,55.8L532.8,60.7L532.6,61.8L531.0,64.8L530.2,68.8L530.1,71.8L531.0,76.8L529.5,79.8L526.0,90.8L525.6,96.8L524.7,97.8L516.2,102.8L515.0,104.2L512.2,108.8L510.2,110.5L502.2,113.6L497.8,116.7L496.6,118.8L494.0,128.8L492.4,132.2L490.2,133.7L488.9,134.2L483.8,135.7L475.8,137.1L470.2,139.2L468.5,140.2L465.2,143.5L464.2,144.0L459.2,143.2L457.2,143.2L447.8,146.4L443.8,144.7L438.8,143.6L435.2,142.2L433.8,141.9L431.8,142.2L425.8,144.1L422.8,144.5L415.2,140.4L413.8,140.0L412.2,140.2L408.7,141.2L406.0,142.8L402.8,146.0L399.8,146.6L394.3,149.2L389.8,152.2L385.2,156.1L378.2,161.2L375.2,162.3L374.2,161.8L364.2,154.6L363.5,153.2L363.9,149.8L362.3,139.8L359.2,133.8L356.4,130.8L356.2,126.3L354.0,119.8L350.6,115.2L348.8,114.1L345.2,112.7L344.6,112.2L344.3,111.2L344.0,95.8L344.4,92.2L343.6,80.2L345.4,59.2L349.2,39.8L351.2,35.1L352.8,32.7L356.8,29.3L357.8,28.7L358.8,28.6L364.8,30.1L371.2,29.9L374.4,32.2L377.2,33.8L383.8,34.7L385.7,34.7L388.2,34.1L392.2,32.2L393.4,31.2L396.8,26.6L397.8,26.1L400.2,25.8L401.8,26.4L407.8,32.0L412.8,34.1L414.8,34.6L422.8,35.3L428.2,34.7L430.8,33.9L434.8,34.4L442.2,34.0L445.3,33.2L448.8,31.9L456.2,35.5L460.8,35.6L466.8,34.8L468.2,34.3L473.2,31.1L478.2,27.1L484.2,23.1L486.8,21.9L490.2,20.9L493.8,19.0Z"/>
<path fill="#ff6100" d="M499.2,18.7L502.2,18.6L505.7,19.8L511.0,24.2L515.2,26.6L518.2,32.8L521.0,39.8L525.2,48.2L525.8,51.3L526.7,53.8L527.9,56.2L530.3,59.8L530.6,61.2L529.6,64.2L529.1,68.8L528.8,72.2L529.3,76.3L525.0,90.2L524.1,96.2L523.1,97.2L515.2,102.2L513.9,103.8L511.2,107.9L509.8,109.3L508.2,110.2L501.8,112.7L497.2,115.6L495.6,118.2L492.6,127.8L490.8,131.2L489.0,132.2L484.2,134.0L475.2,135.8L469.8,137.8L467.8,138.9L463.8,142.0L456.8,141.9L448.2,144.4L447.2,144.4L443.8,143.1L434.2,140.8L432.2,141.0L426.2,142.9L423.2,143.5L421.8,143.1L416.3,140.2L414.2,139.6L412.8,139.5L408.8,140.3L404.8,141.7L401.8,144.7L394.5,147.8L388.3,150.8L385.8,153.9L376.2,160.4L374.8,160.1L366.2,154.1L365.6,152.8L366.4,149.2L366.2,147.3L362.9,138.2L360.1,133.2L357.6,129.8L357.3,126.2L355.0,119.8L351.2,114.1L346.8,110.6L346.1,108.8L345.5,96.2L345.7,91.8L344.9,80.2L346.7,58.7L347.3,54.8L350.4,41.2L351.4,38.8L354.6,33.8L356.8,31.9L358.2,31.1L363.2,31.5L369.8,31.4L371.2,31.8L374.2,33.6L376.8,34.6L385.2,35.7L388.2,35.0L392.8,32.9L395.1,31.2L398.2,28.3L399.8,27.8L401.2,28.5L407.8,33.0L412.8,35.0L415.8,35.7L422.8,36.4L428.2,36.5L430.8,35.8L435.2,35.6L443.8,34.6L448.8,33.6L456.2,36.2L460.2,36.2L468.2,34.6L473.2,31.6L477.8,28.1L483.2,24.6L485.7,23.6L490.8,22.6L493.8,20.7Z"/>
<path fill="#ff8300" d="M500.2,19.7L503.2,20.0L505.8,21.3L509.3,25.2L513.8,28.6L516.8,34.0L523.6,48.8L525.4,54.2L528.6,60.2L528.7,61.2L527.6,72.2L527.7,75.8L524.1,89.8L523.5,93.8L522.7,95.8L520.9,97.2L514.6,101.2L512.8,103.2L510.1,107.2L508.8,108.6L501.2,111.8L496.6,114.8L494.6,117.8L491.0,127.2L489.4,129.8L488.2,130.5L483.2,132.6L474.8,134.5L468.8,136.7L463.2,140.0L456.8,140.6L448.2,142.7L434.8,139.6L432.2,139.9L425.8,141.9L423.2,142.4L421.2,142.0L414.2,139.1L412.2,139.0L404.8,139.9L403.8,140.5L401.8,142.9L398.8,144.6L394.2,146.5L386.2,149.3L385.4,150.2L384.3,152.8L383.3,153.8L376.2,158.3L374.8,158.0L368.5,153.8L367.8,152.8L368.7,147.8L368.5,145.8L365.2,140.7L359.1,129.8L358.0,125.2L355.1,117.8L351.8,112.7L348.3,108.8L347.5,103.8L346.1,80.2L347.9,58.8L348.7,54.2L351.6,42.2L352.8,39.9L356.2,35.0L357.8,33.7L358.8,33.4L368.8,32.8L370.2,33.0L375.2,35.2L385.2,36.7L389.2,35.5L399.8,30.3L401.8,30.9L407.2,33.7L413.8,36.2L427.8,38.3L429.2,38.3L441.2,35.5L448.2,35.0L456.2,36.9L460.2,36.8L468.2,35.0L471.2,33.4L478.2,28.4L483.2,25.6L485.8,24.8L491.2,24.5L494.8,21.9Z"/>
<path fill="#ffa500" d="M499.8,21.1L502.2,20.9L504.2,21.8L507.8,26.2L512.6,30.8L515.2,35.1L518.9,42.2L522.0,49.2L523.6,53.8L526.8,60.2L526.8,67.8L526.1,75.8L522.4,93.2L521.2,95.4L514.0,100.2L512.1,102.2L509.2,106.3L507.8,107.8L500.8,110.9L496.1,113.8L493.6,117.2L489.9,125.8L488.8,127.6L487.2,129.0L482.5,131.2L473.2,133.5L467.4,135.8L462.8,138.2L449.2,141.0L447.3,140.9L441.8,139.6L434.2,138.4L431.2,139.0L424.8,141.1L422.8,141.4L421.2,141.1L414.2,138.6L407.8,138.6L404.2,138.3L403.2,139.0L400.8,141.8L397.2,144.1L393.8,145.5L384.2,147.4L383.1,148.8L381.0,153.2L376.3,156.3L374.8,155.9L370.8,153.2L370.3,152.2L370.9,147.2L370.6,144.2L365.8,139.2L360.5,129.8L356.2,118.0L350.0,107.2L348.9,101.2L347.3,80.2L349.4,56.8L351.2,48.8L353.0,42.8L357.8,36.4L359.8,35.5L365.8,34.2L367.8,34.1L369.8,34.4L374.2,36.1L379.2,36.6L385.2,37.8L389.2,36.4L394.8,34.0L400.2,32.3L404.8,33.6L414.8,37.4L429.2,40.3L441.8,36.1L448.2,36.2L456.2,37.6L460.2,37.4L468.8,35.1L471.2,33.8L478.2,29.0L483.8,26.3L485.8,26.0L491.3,26.6L492.2,26.4L495.2,23.4Z"/>
<path fill="#ffc700" d="M500.2,22.2L501.8,21.9L503.4,22.8L506.2,27.1L510.8,31.9L513.8,36.1L517.5,42.8L521.6,52.8L525.2,60.2L525.6,67.2L525.5,69.8L521.6,92.2L521.2,93.2L520.1,94.8L513.8,99.0L511.2,101.5L508.2,105.5L506.8,107.0L500.2,110.0L495.3,113.0L492.3,117.2L488.0,125.8L486.2,127.4L481.8,129.9L472.8,132.2L467.2,134.2L461.8,136.7L449.8,139.5L447.2,139.3L441.2,137.9L434.2,137.3L430.8,138.1L424.2,140.1L421.8,140.4L414.2,138.1L407.8,137.6L403.8,136.7L398.8,141.8L396.2,143.3L392.8,144.4L381.8,145.3L380.2,147.3L378.4,152.2L377.7,153.2L375.8,154.3L373.9,153.2L373.0,151.2L373.1,146.2L372.7,143.2L371.8,142.1L366.8,138.5L362.5,131.2L357.2,117.8L351.7,106.2L350.6,101.2L349.5,92.8L348.6,80.2L350.4,58.8L352.3,49.8L354.0,44.2L354.8,42.8L357.8,39.4L358.9,38.2L360.2,37.5L366.2,35.5L368.8,35.6L373.2,37.0L378.8,37.3L385.2,38.8L394.8,34.9L401.2,34.0L404.8,34.6L414.8,38.3L421.8,39.8L429.8,42.2L431.2,41.7L434.5,39.8L441.8,36.8L453.2,38.2L456.8,38.3L461.8,37.7L467.8,35.9L470.2,34.8L478.2,29.6L483.8,27.1L485.2,27.0L491.2,28.5L493.2,28.4L496.0,24.8Z"/>
<path fill="#ffe900" d="M501.2,23.1L502.0,23.2L502.6,23.8L504.8,27.9L512.2,37.1L516.1,43.2L520.0,52.8L523.8,60.8L524.4,69.2L522.7,77.2L520.2,92.8L518.3,94.7L512.9,98.2L505.8,106.2L499.8,109.1L494.7,111.9L491.9,115.7L487.5,123.8L486.2,125.1L480.8,128.6L472.6,130.8L458.8,136.0L450.2,138.1L448.2,137.9L441.8,136.5L433.8,136.2L421.8,139.5L414.2,137.5L408.2,136.8L403.8,135.0L402.4,135.8L397.6,141.2L395.8,142.3L392.2,143.2L379.2,142.6L376.2,145.1L375.8,144.7L373.8,141.0L368.2,138.2L367.2,137.4L362.8,129.2L355.6,111.8L353.1,104.8L352.3,101.8L350.8,92.8L349.8,80.8L350.7,66.8L351.8,57.2L352.4,54.2L353.7,49.2L355.3,44.8L355.9,43.8L359.8,40.1L361.8,38.8L366.8,36.7L368.2,36.9L372.8,38.1L378.8,38.2L385.2,39.9L394.8,35.9L402.8,35.4L404.8,35.6L408.6,36.8L414.8,39.3L421.8,41.0L428.2,43.7L430.2,44.3L431.2,43.8L435.2,40.8L441.8,37.6L443.2,37.6L450.2,39.0L456.8,38.9L461.8,38.3L470.8,35.0L478.2,30.2L483.8,28.0L485.2,28.0L490.8,30.1L493.2,30.5L494.2,30.3L497.2,25.8Z"/>
<path fill="#f3ff0c" d="M500.2,25.6L501.2,25.3L501.8,25.8L503.5,29.2L510.9,38.2L514.8,44.2L518.6,53.2L522.3,60.8L523.2,68.8L521.4,76.8L519.6,90.2L519.0,92.2L517.5,93.8L512.8,96.9L509.0,100.8L505.2,105.2L493.9,111.3L490.1,116.8L485.7,123.8L480.2,127.4L472.2,129.6L457.2,135.1L450.2,136.7L442.2,135.2L433.8,135.1L422.8,138.3L421.2,138.4L413.8,136.6L408.2,135.8L403.8,133.7L402.8,133.9L401.7,134.8L396.2,140.6L392.2,141.9L376.2,139.9L369.6,137.2L368.1,136.2L364.3,129.8L356.5,111.2L353.5,101.2L351.7,92.2L351.4,89.2L350.7,80.2L351.6,67.2L352.7,57.2L354.7,49.8L356.2,45.7L357.2,44.3L359.7,42.2L362.8,40.0L366.8,38.1L372.2,39.1L378.2,39.0L385.2,40.8L395.2,36.7L403.2,36.4L408.6,37.8L413.8,40.1L421.2,42.2L427.7,45.2L430.8,46.0L435.8,41.9L441.7,38.7L443.2,38.6L450.2,40.0L461.2,39.1L470.8,35.5L478.7,30.8L483.8,29.1L485.2,29.2L490.2,31.4L494.8,32.2L496.0,31.2L498.2,27.1Z"/>
<path fill="#d2ff2d" d="M500.2,29.5L501.2,30.3L509.0,39.2L512.8,44.8L520.6,61.2L521.4,66.2L521.4,69.2L519.9,76.2L517.9,89.8L517.2,91.6L512.2,95.7L504.2,104.1L493.2,110.3L485.7,121.8L484.3,123.2L479.2,126.4L471.8,128.5L457.2,133.6L450.2,135.1L442.2,133.7L433.2,133.7L421.2,136.7L414.2,135.2L409.2,134.6L404.8,132.7L403.2,132.5L400.9,133.8L395.2,138.9L392.2,139.9L385.8,139.3L376.8,137.8L370.8,135.4L369.3,134.2L366.1,129.2L357.7,111.2L354.6,101.8L352.4,91.8L351.4,80.2L352.2,67.2L353.1,59.8L353.8,56.2L355.8,49.8L357.4,46.2L358.8,44.8L363.2,41.4L367.2,39.7L372.2,40.4L377.8,40.2L385.2,41.8L395.2,37.9L403.2,37.6L408.2,39.0L413.8,41.7L420.2,44.0L424.2,45.9L428.8,47.2L430.8,47.5L431.8,47.1L436.3,43.2L442.2,40.2L450.2,41.2L461.2,39.9L471.8,35.9L479.2,31.8L483.8,30.6L484.8,30.7L490.2,32.9L494.2,33.8L495.8,33.7L496.8,33.2L499.8,29.8Z"/>
<path fill="#b0ff4f" d="M481.2,32.7L484.2,32.3L489.8,34.3L495.2,35.4L497.8,35.1L500.2,33.8L501.2,34.1L507.4,40.8L510.9,45.8L518.6,61.2L519.8,67.8L516.1,89.2L515.5,90.8L503.2,103.1L497.2,106.4L492.2,109.7L483.8,122.0L478.6,125.2L470.8,127.6L457.8,132.0L450.2,133.5L442.2,132.3L433.2,132.2L421.2,134.9L414.8,133.5L409.8,133.1L405.2,131.6L403.2,131.4L400.2,132.6L394.0,137.2L392.2,137.7L390.8,137.8L384.7,137.3L377.2,135.8L372.4,133.8L371.0,132.8L367.7,128.2L358.7,110.8L355.4,101.2L353.1,91.8L352.2,80.2L352.9,67.2L354.5,56.8L357.0,49.8L359.1,46.2L364.0,42.8L367.2,41.4L371.8,41.8L377.8,41.6L385.2,42.8L395.8,39.2L402.8,38.9L408.2,40.5L413.2,43.3L419.8,46.0L423.8,48.1L430.2,49.0L432.2,48.3L437.2,44.4L442.2,42.0L450.2,42.3L461.2,40.9L472.2,36.8L479.2,33.3Z"/>
<path fill="#8eff71" d="M481.2,34.2L484.2,34.0L488.8,35.5L495.2,37.1L497.8,37.3L500.2,37.1L501.8,37.9L506.3,42.7L509.3,47.2L516.7,61.2L517.5,64.2L518.1,67.8L514.4,88.2L513.8,89.8L508.9,95.8L502.8,101.6L496.2,105.4L491.8,108.6L482.8,121.2L478.9,123.8L475.2,125.1L457.2,130.6L450.8,131.9L448.2,131.8L442.8,130.8L434.2,130.7L431.8,130.9L421.2,133.0L414.8,131.8L409.8,131.4L405.2,130.3L403.2,130.2L399.9,131.2L392.8,135.5L390.2,135.8L384.8,135.4L377.8,133.8L373.8,132.0L372.2,130.8L369.7,127.8L366.8,123.0L359.8,110.4L356.3,101.2L353.9,91.8L353.0,80.2L353.5,67.2L355.2,57.0L358.0,50.2L360.1,47.2L364.8,44.0L367.2,43.0L371.8,43.2L377.8,43.0L385.2,43.8L395.8,40.5L402.8,40.3L407.8,41.9L412.8,45.0L418.8,47.8L423.2,50.3L429.8,50.5L432.8,49.6L438.2,45.6L442.2,43.7L443.8,43.5L449.8,43.6L461.2,41.8Z"/>
<path fill="#6cff93" d="M481.2,35.7L484.3,35.6L496.2,39.1L500.2,39.8L501.2,40.5L506.6,46.8L514.1,59.8L515.5,63.2L516.4,68.2L512.5,87.8L508.9,93.8L507.2,95.7L504.8,97.6L501.5,100.8L495.2,104.5L491.0,107.8L481.8,120.4L478.2,122.6L474.2,124.1L457.2,129.1L450.2,130.4L442.2,129.3L434.2,129.2L421.2,131.2L414.8,130.1L410.8,130.0L405.8,129.1L403.2,129.1L398.8,130.2L391.8,133.6L388.2,133.8L384.8,133.4L377.8,131.6L374.3,129.8L371.4,126.8L366.2,119.2L360.7,109.8L357.1,100.8L354.6,91.2L353.7,80.7L354.2,67.2L356.0,57.2L359.0,50.8L361.2,48.1L365.2,45.5L367.2,44.7L377.8,44.3L384.8,44.8L386.8,44.5L395.8,41.8L401.8,41.5L403.8,41.9L406.8,43.0L412.2,46.7L418.2,49.9L422.2,52.4L423.2,52.9L424.8,52.8L429.2,52.2L431.8,51.5L433.8,50.5L439.2,46.7L442.8,45.2L449.8,44.9L461.2,42.8Z"/>
<path fill="#4affb5" d="M480.8,37.2L483.7,37.2L491.2,39.1L499.2,42.1L500.4,42.8L504.8,47.7L512.3,60.2L513.6,63.2L514.7,68.2L510.9,86.8L507.4,93.8L500.4,99.8L494.2,103.6L490.2,106.9L482.0,118.2L480.2,119.9L477.2,121.7L473.8,123.1L457.8,127.5L451.8,128.7L448.8,128.8L440.8,127.7L434.2,127.7L421.7,129.4L414.8,128.4L403.2,127.9L397.8,129.1L391.2,131.6L388.2,131.8L385.2,131.6L379.8,130.1L376.2,128.4L372.8,125.2L367.4,118.2L361.7,109.2L358.0,100.8L355.5,92.2L354.4,81.2L354.7,68.2L356.4,58.8L359.7,51.8L362.2,49.1L366.1,46.8L367.8,46.2L377.8,45.7L384.8,45.8L395.8,43.0L401.2,42.8L403.2,43.1L406.8,44.6L411.8,48.4L417.8,52.0L422.2,55.1L423.2,55.4L428.2,54.2L431.8,53.0L439.8,48.2L442.8,46.9L449.8,46.1L460.8,43.9L470.2,40.5Z"/>
<path fill="#28ffd7" d="M480.3,38.7L483.8,38.8L491.2,40.6L497.6,43.8L499.8,45.2L502.9,48.8L510.9,61.2L511.9,63.8L513.0,68.2L512.8,70.2L509.2,85.8L506.3,93.2L503.2,95.3L499.2,98.8L493.2,102.7L489.7,105.8L483.9,113.8L480.8,117.8L479.2,119.1L473.2,122.0L458.2,126.0L451.8,127.2L448.2,127.2L440.2,126.2L433.8,126.2L421.8,127.6L414.8,126.7L405.2,126.7L399.7,127.3L389.9,129.8L386.8,129.9L379.8,127.9L377.2,126.5L374.8,124.4L368.5,117.2L362.7,108.8L358.8,100.2L356.2,92.2L355.1,80.8L355.3,68.8L357.4,58.2L360.8,52.2L364.2,49.5L367.8,47.8L384.8,46.8L395.8,44.3L401.2,44.0L405.8,45.7L410.8,49.8L421.8,57.6L423.2,58.0L431.8,54.5L442.2,48.7L460.8,44.9L470.8,41.3Z"/>
<path fill="#07fff8" d="M479.8,40.1L483.2,40.3L490.8,42.0L496.2,45.2L498.2,46.9L501.2,50.0L509.4,62.2L511.1,67.2L511.3,68.8L507.6,84.8L505.2,92.5L502.2,94.4L498.2,97.8L492.8,101.4L489.8,104.2L487.8,106.3L483.2,112.8L479.8,117.0L478.2,118.2L472.2,121.0L458.2,124.6L451.2,125.7L448.2,125.7L440.8,124.7L433.8,124.7L422.2,125.9L413.8,125.0L402.2,125.7L388.8,127.9L386.8,128.0L380.8,126.1L375.2,122.2L369.6,116.2L363.4,107.8L359.8,100.2L357.0,92.2L355.9,80.8L355.9,70.8L356.0,67.8L357.9,58.8L361.3,53.2L363.8,51.4L368.2,49.3L384.8,47.8L395.8,45.6L400.8,45.3L403.8,46.3L405.2,47.1L409.8,51.2L420.8,59.7L422.8,60.7L427.8,58.4L442.2,50.3L460.8,46.0L470.8,42.2Z"/>
<path fill="#00e4ff" d="M479.2,41.7L481.7,41.7L489.8,43.4L495.8,47.2L499.3,50.8L507.7,62.8L509.6,68.8L507.8,77.4L503.9,91.8L501.8,93.1L497.5,96.8L491.2,101.1L487.1,105.2L483.2,110.8L477.7,116.8L471.8,119.7L457.8,123.1L451.2,124.0L448.8,124.0L441.2,123.0L433.2,123.0L423.2,123.9L413.8,123.1L387.2,126.0L381.8,124.2L375.9,120.2L370.9,115.2L364.2,106.6L360.8,99.7L358.0,92.2L356.7,79.8L356.6,68.8L358.0,60.2L358.8,58.5L361.8,54.3L363.2,53.0L368.3,50.7L384.8,48.9L396.2,46.7L400.8,46.6L404.2,48.1L408.8,52.4L419.2,61.4L421.8,63.2L422.8,63.4L435.5,55.8L442.2,52.1L461.2,47.1L471.8,43.3Z"/>
<path fill="#00c2ff" d="M478.2,44.2L481.2,44.0L488.8,45.6L491.7,47.1L494.8,49.2L498.3,52.6L504.7,61.8L506.4,64.8L507.5,69.2L505.4,79.8L502.4,90.2L496.8,95.7L491.2,99.4L487.7,102.8L485.7,104.8L481.8,109.9L477.2,114.5L472.8,117.0L458.8,120.7L450.8,121.6L441.2,120.2L432.2,120.2L423.2,120.7L414.2,120.4L406.8,120.5L392.8,122.9L387.2,123.2L383.2,122.0L381.0,120.8L377.4,118.2L373.3,114.2L366.3,105.8L361.2,96.7L359.7,92.8L359.1,89.8L358.0,79.8L357.4,68.8L358.7,59.8L362.8,55.0L364.2,54.0L368.8,52.3L385.2,50.2L394.2,48.5L400.2,48.2L403.8,49.7L418.8,64.4L420.8,65.9L422.2,66.2L424.2,65.6L436.8,57.6L443.2,54.3L461.8,48.9L471.2,45.6Z"/>
<path fill="#00a0ff" d="M477.8,46.7L481.2,46.4L487.8,47.8L491.2,49.4L494.2,51.6L497.9,55.2L503.1,62.8L505.0,67.2L505.4,68.8L505.4,70.2L503.7,79.8L500.5,89.2L495.9,94.7L490.5,98.2L487.7,100.8L484.6,103.8L480.8,108.4L476.8,112.1L474.8,113.6L471.2,115.2L459.8,118.3L455.8,118.9L449.2,118.9L441.2,117.4L436.2,117.6L425.8,117.1L421.8,117.5L412.2,117.6L405.8,117.1L397.2,119.5L392.2,120.4L387.8,120.6L384.2,119.5L381.8,118.2L379.1,116.2L375.3,112.8L368.0,104.2L364.3,98.8L361.9,94.2L361.1,91.8L360.6,89.2L358.5,70.2L358.7,61.8L359.0,60.2L359.8,59.2L364.8,55.3L369.2,53.9L383.8,52.0L392.8,50.1L397.2,49.9L400.8,50.1L403.1,51.2L407.8,55.8L418.8,68.3L419.8,69.0L421.2,69.2L423.2,68.8L425.2,68.0L438.2,59.4L443.8,56.6L470.8,48.0Z"/>
<path fill="#007eff" d="M480.2,48.7L485.2,49.6L489.2,50.9L491.8,52.3L495.7,55.7L500.8,62.8L502.1,65.2L503.4,69.2L503.2,72.2L502.0,79.2L499.3,87.2L495.4,93.2L494.2,94.4L488.4,98.2L484.8,101.5L479.8,106.9L475.8,110.3L473.8,111.6L470.7,113.0L459.8,116.1L455.8,116.6L449.2,116.3L441.8,114.4L436.2,114.8L425.8,113.6L421.2,114.3L413.8,114.8L404.8,113.5L399.8,116.0L397.8,116.7L391.8,118.0L388.2,117.9L385.2,117.0L382.8,115.8L377.8,111.7L369.2,102.3L366.2,98.2L363.2,93.2L362.5,90.2L359.4,69.8L359.2,61.8L359.4,60.8L360.2,59.7L365.3,56.6L369.2,55.6L376.8,54.7L392.8,51.6L398.2,51.6L400.8,51.9L402.4,52.8L406.8,57.1L417.2,71.2L418.2,72.3L419.2,72.6L422.8,71.8L426.2,70.4L439.5,61.2L444.9,58.8L459.2,53.7L469.8,50.4Z"/>
<path fill="#005cff" d="M478.7,51.2L481.8,51.2L488.8,53.1L491.8,55.0L495.5,58.2L499.5,64.2L501.2,68.8L501.4,71.2L500.5,78.2L497.4,86.8L493.8,93.1L488.2,96.6L484.5,99.8L479.2,105.0L475.8,107.8L472.8,109.7L469.2,111.1L459.2,114.0L456.2,114.3L449.2,113.7L442.2,111.5L436.2,112.0L425.8,110.2L420.2,111.3L413.8,112.0L407.8,110.6L404.2,109.4L403.2,109.7L398.8,113.1L397.2,113.9L392.2,115.4L389.8,115.5L384.2,113.6L379.8,110.1L368.8,98.4L364.6,92.2L360.4,69.2L359.7,61.7L360.1,60.8L360.7,60.2L365.2,58.1L368.2,57.4L377.2,56.3L392.8,53.0L398.2,53.3L400.8,53.7L401.8,54.4L405.5,58.2L414.8,73.2L416.8,75.7L417.8,76.2L421.2,75.4L427.8,72.5L440.8,63.2L445.8,61.0L460.2,55.5L469.8,52.6Z"/>
<path fill="#003bff" d="M479.2,53.7L481.2,53.8L488.2,55.6L493.9,59.8L497.3,64.8L499.2,70.2L498.6,78.2L495.7,85.8L493.2,91.2L492.5,92.2L487.8,95.2L483.8,98.4L478.2,103.5L475.2,105.8L472.2,107.5L466.3,109.8L457.2,112.0L449.8,111.2L442.2,108.5L436.7,109.3L431.8,108.4L425.8,106.8L419.8,108.2L414.2,109.0L408.3,107.2L403.8,105.0L402.8,105.4L396.4,111.2L391.8,112.8L390.2,112.9L385.2,111.2L380.9,107.8L370.5,97.2L367.2,93.0L366.2,91.3L364.4,80.2L361.8,68.4L360.9,62.2L361.6,61.2L364.1,60.2L368.2,59.3L375.8,58.5L392.8,54.5L400.2,55.4L404.2,59.2L412.2,74.8L415.2,79.5L416.2,80.2L421.8,78.4L429.2,74.6L443.0,64.8L461.9,57.2L470.8,54.7Z"/>
<path fill="#0019ff" d="M391.7,56.6L394.2,56.5L398.8,57.6L400.2,58.5L402.0,60.2L406.4,68.8L412.2,83.7L413.2,85.2L414.2,86.0L416.8,85.5L422.8,82.3L431.1,77.2L439.2,71.5L444.8,68.3L460.2,62.4L467.8,60.6L473.2,59.7L479.8,59.8L484.2,60.7L486.6,61.8L489.7,64.2L492.6,67.8L494.2,71.3L494.7,77.2L493.9,82.2L490.7,90.2L485.2,95.0L479.8,99.2L476.2,101.8L471.2,104.7L464.8,107.0L459.8,108.3L456.7,108.8L450.8,108.0L442.8,105.6L436.2,106.2L424.8,104.0L415.8,103.6L414.1,103.2L410.8,101.3L405.8,101.0L403.8,101.2L402.2,101.8L397.8,105.8L394.8,107.8L390.8,108.9L388.2,108.4L385.2,106.9L379.1,101.8L373.8,95.2L370.9,90.2L369.6,83.2L368.7,67.8L369.0,66.8L369.5,66.2L380.2,60.9Z"/>
<path fill="#0000f6" d="M392.2,58.6L393.2,58.5L394.8,58.9L397.8,60.1L399.6,61.2L400.4,62.2L403.8,68.8L404.4,70.2L406.5,79.8L408.1,91.2L407.6,92.8L406.3,94.2L400.2,99.1L396.2,102.8L392.8,104.3L389.8,104.8L387.8,104.2L383.2,101.1L381.6,99.8L379.8,97.2L377.3,93.2L375.4,88.2L374.7,85.2L374.6,82.2L375.3,73.2L376.0,71.2L383.2,63.2ZM468.2,65.7L473.2,65.4L479.8,66.1L482.8,66.9L484.8,68.3L487.8,71.4L489.3,73.8L490.0,75.8L490.7,80.2L490.7,82.2L488.3,88.8L484.2,93.4L475.8,98.9L470.8,101.4L466.2,103.1L459.2,105.1L456.8,105.4L450.8,104.6L442.8,102.5L435.8,103.1L427.8,101.9L419.3,98.9L417.8,97.8L417.0,96.8L416.3,95.2L416.4,94.2L420.7,89.2L428.0,83.2L440.3,75.1L446.2,72.1L457.2,68.1L460.8,67.0Z"/>
<path fill="#0000d4" d="M392.8,61.6L394.9,62.2L397.8,63.9L401.2,69.9L402.0,72.8L402.6,77.8L402.9,80.2L402.7,83.2L401.8,90.9L400.6,93.2L398.5,95.8L394.7,99.2L393.2,99.8L389.8,100.2L388.8,99.9L385.2,97.8L383.2,95.4L381.2,91.4L379.5,83.8L381.2,74.8L385.6,66.2L387.2,64.8ZM467.8,70.7L471.8,70.6L480.2,72.2L485.2,76.2L486.0,77.2L487.6,81.8L486.1,87.2L483.4,91.8L479.2,94.5L472.8,97.7L466.8,99.9L462.8,101.1L457.2,102.1L450.2,100.9L442.2,98.6L435.2,98.9L431.2,98.1L428.2,97.3L425.6,95.2L425.6,94.2L426.2,93.0L430.8,87.6L437.8,81.9L442.2,79.0L451.8,74.8L458.8,72.4L461.8,71.5Z"/>
<path fill="#0000b2" d="M392.7,69.7L393.8,70.0L395.8,71.4L397.2,73.5L398.1,75.8L398.6,78.2L398.7,82.2L397.9,86.2L396.4,89.2L394.2,91.0L391.2,91.9L390.2,91.7L389.2,91.0L387.2,88.2L385.8,84.2L385.7,80.8L386.3,76.8L387.8,73.7L390.2,70.8L391.8,69.9ZM469.3,75.7L471.2,75.5L478.8,76.2L480.8,77.4L483.2,80.0L484.5,82.2L484.1,85.2L482.9,89.2L480.7,91.8L478.3,93.4L465.2,98.0L462.8,98.6L457.8,98.7L456.2,98.3L451.2,95.5L449.1,93.8L447.7,91.8L446.8,89.2L447.0,88.2L447.9,87.2L454.4,82.2L458.8,79.5L462.8,77.8Z"/>
<path fill="#000090" d="M392.8,77.5L393.2,77.7L393.8,78.6L394.1,80.8L393.7,82.8L393.2,83.6L392.8,83.7L392.1,82.8L391.7,80.8L392.0,78.8ZM470.8,81.2L472.2,80.9L477.2,80.9L478.3,81.2L480.2,83.2L480.6,84.2L480.1,87.8L479.5,88.8L477.8,90.6L470.8,92.5L463.2,95.1L458.8,94.5L456.7,92.7L456.5,92.2L456.8,91.2L462.2,85.5Z"/></g><g stroke="#111" stroke-width="1" fill="none"><rect x="337.0" y="3.4" width="210.0" height="176.5"/><path d="M370.6,179.9v-2M370.6,3.4v2"/><path d="M404.2,179.9v-2M404.2,3.4v2"/><path d="M437.8,179.9v-2M437.8,3.4v2"/><path d="M471.4,179.9v-2M471.4,3.4v2"/><path d="M505.0,179.9v-2M505.0,3.4v2"/><path d="M538.6,179.9v-2M538.6,3.4v2"/><path d="M337.0,162.8h2M547.0,162.8h-2"/><path d="M337.0,127.4h2M547.0,127.4h-2"/><path d="M337.0,92.0h2M547.0,92.0h-2"/><path d="M337.0,56.6h2M547.0,56.6h-2"/><path d="M337.0,21.2h2M547.0,21.2h-2"/></g>
<text x="341.4" y="200.0" font-size="16" text-anchor="end" >−8</text><text x="375.1" y="200.0" font-size="16" text-anchor="end" >−6</text><text x="408.6" y="200.0" font-size="16" text-anchor="end" >−4</text><text x="442.2" y="200.0" font-size="16" text-anchor="end" >−2</text><text x="475.8" y="200.0" font-size="16" text-anchor="end" >0</text><text x="509.4" y="200.0" font-size="16" text-anchor="end" >2</text><text x="543.1" y="200.0" font-size="16" text-anchor="end" >4</text>
<text x="332.2" y="168.7" font-size="16" text-anchor="end" >−4</text><text x="332.2" y="133.3" font-size="16" text-anchor="end" >−2</text><text x="332.2" y="97.9" font-size="16" text-anchor="end" >0</text><text x="332.2" y="62.5" font-size="16" text-anchor="end" >2</text><text x="332.2" y="27.1" font-size="16" text-anchor="end" >4</text>
<text transform="translate(308.0,89.7) rotate(-90)" font-size="16.3" text-anchor="middle">PC 2 (Å)</text>
<text transform="translate(295.8,12.1)" font-style="italic" font-size="13.6">(</text><text transform="translate(300.4,12.1) scale(1.15,1)" font-style="italic" font-size="11.6">B</text><text transform="translate(309.8,12.1)" font-style="italic" font-size="13.6">)</text>
<text x="440.0" y="220.3" font-size="16.3" text-anchor="middle" >PC 1 (Å)</text>
<clipPath id="cd"><rect x="337.0" y="242.0" width="210.0" height="176.4"/></clipPath><rect x="337.0" y="242.0" width="210.0" height="176.4" fill="#800000"/><g clip-path="url(#cd)" shape-rendering="geometricPrecision"><path fill="#960000" d="M428.3,281.2L429.8,281.1L430.8,281.4L431.6,282.2L432.8,284.1L433.8,284.4L435.2,284.2L440.2,282.6L444.2,282.5L447.8,283.7L451.4,287.2L453.4,288.2L459.2,290.1L463.0,293.2L465.2,297.0L470.2,300.1L471.6,301.2L472.9,304.8L472.4,308.2L473.2,309.6L476.2,312.2L476.6,313.2L476.5,314.2L475.1,316.2L473.8,317.4L471.2,318.7L470.1,320.8L470.1,323.2L471.6,326.2L471.8,327.2L470.2,331.9L470.1,334.2L470.8,338.2L470.0,340.8L469.4,341.8L468.2,342.6L463.3,345.2L461.6,346.8L461.0,347.8L461.2,348.7L465.1,353.2L470.8,362.8L471.7,363.8L474.5,365.2L476.6,368.2L476.6,369.8L475.6,372.8L473.1,375.8L472.2,377.5L471.9,381.8L471.1,383.8L469.4,386.2L468.2,387.0L464.8,387.9L459.0,387.8L454.2,391.0L452.8,391.6L451.2,391.2L447.8,388.2L446.5,387.8L445.8,387.8L442.8,389.1L439.8,388.4L438.8,388.5L437.2,389.2L433.2,394.2L431.8,394.8L430.8,394.4L428.4,391.8L422.8,387.8L418.2,387.9L413.8,386.6L413.0,385.8L411.3,382.3L408.9,379.2L408.6,377.8L408.8,374.8L408.0,373.8L406.8,373.1L401.8,372.1L398.9,369.2L396.8,365.4L394.7,363.8L390.8,362.2L385.8,361.5L382.2,359.3L381.8,357.8L382.9,355.8L384.2,354.5L387.3,352.8L389.0,350.8L389.2,350.2L388.8,349.1L386.2,344.2L386.2,343.2L386.8,342.2L388.8,340.3L390.2,339.6L393.8,339.6L396.8,340.9L398.4,340.8L399.3,340.2L401.2,337.7L401.4,335.2L399.8,330.1L399.2,329.0L398.8,328.8L398.1,329.8L397.4,333.2L396.5,334.8L394.8,336.5L393.2,336.4L392.4,335.8L391.5,333.8L390.1,328.2L389.2,327.8L386.2,328.1L383.2,326.6L378.7,322.2L375.8,321.9L374.8,321.4L374.0,320.2L373.6,318.2L373.9,316.8L375.9,314.2L376.9,310.8L379.6,304.2L380.5,302.8L382.8,300.5L386.8,298.4L392.6,296.8L398.2,293.5L400.2,293.4L406.8,294.9L415.9,292.8L419.8,290.4L423.8,289.2L425.3,286.8L425.9,282.8L426.7,281.7ZM375.8,344.9L377.2,345.0L378.6,346.2L379.1,347.2L378.6,348.8L376.8,350.2L375.8,350.1L375.2,349.7L373.8,347.8L373.9,346.8Z"/>
<path fill="#b70000" d="M427.7,282.6L429.2,282.3L430.2,282.5L431.8,284.9L433.7,285.6L434.8,285.5L440.2,283.8L442.8,283.4L444.3,283.6L447.2,284.7L449.5,287.2L450.9,288.2L453.2,289.4L458.8,291.2L462.2,294.1L464.3,297.8L470.5,301.8L471.7,304.8L471.1,307.8L471.3,308.8L472.3,310.2L474.6,312.2L475.3,313.2L475.1,314.2L473.8,316.0L470.2,318.2L469.0,320.8L469.0,323.8L470.6,327.2L469.4,330.8L468.9,333.2L469.6,337.8L469.0,340.2L468.2,341.2L462.8,344.3L460.5,346.2L459.8,347.8L460.0,348.8L464.0,353.8L466.2,357.8L470.2,364.0L473.8,366.2L475.4,368.8L474.5,372.2L472.0,375.2L471.1,377.2L470.7,381.8L470.3,382.8L468.8,385.2L467.8,385.9L464.2,386.8L460.2,386.4L458.3,386.8L452.8,390.3L451.8,390.1L448.2,387.2L446.8,386.6L445.2,386.7L442.8,388.0L439.8,387.2L438.8,387.3L436.6,388.2L432.8,393.0L431.8,393.4L429.2,391.0L423.2,386.8L422.2,386.5L418.2,386.7L414.2,385.4L412.3,381.8L410.0,378.8L409.8,377.8L410.0,374.8L409.2,373.3L407.2,372.0L403.2,371.3L401.9,370.8L399.9,368.8L397.8,364.8L395.2,362.7L391.2,361.2L386.2,360.4L383.2,358.5L383.1,357.8L384.0,356.2L388.5,353.2L390.4,350.8L390.1,349.2L387.4,344.2L387.9,342.8L389.8,341.0L390.8,340.7L394.2,340.9L397.2,342.2L399.2,341.6L400.2,340.8L402.2,338.1L402.6,336.8L402.5,335.2L400.4,328.8L399.2,327.4L398.3,327.4L397.8,328.0L396.9,329.8L396.1,333.2L394.8,335.0L393.8,335.2L392.6,333.2L391.4,328.2L390.7,327.2L389.8,326.7L386.2,326.9L384.2,325.9L382.8,324.8L380.8,322.5L379.2,321.3L375.8,320.6L375.1,319.8L374.8,318.2L375.0,317.2L377.0,314.8L377.9,311.2L380.8,304.2L383.8,301.2L387.2,299.4L393.0,297.8L398.8,294.6L399.8,294.5L406.8,296.0L416.2,293.8L419.8,291.6L424.8,290.0L426.3,287.2L427.1,283.2ZM375.8,346.2L376.8,346.0L378.0,347.2L377.7,348.2L376.8,349.1L375.8,348.9L374.9,347.8L375.1,346.8Z"/>
<path fill="#d90000" d="M428.8,283.1L429.8,283.2L431.1,285.2L431.7,285.8L433.8,286.2L434.7,286.2L440.2,284.4L442.8,284.1L444.2,284.3L446.7,285.2L449.2,287.9L450.8,288.9L453.2,290.1L458.3,291.8L461.8,294.7L463.5,297.8L464.2,298.6L469.8,302.2L471.0,305.2L470.3,307.8L470.4,308.8L471.8,310.8L474.0,312.8L474.4,313.8L473.2,315.4L470.2,317.2L468.5,320.2L468.5,323.8L469.9,327.2L468.9,330.2L468.3,333.2L468.9,337.8L468.4,339.8L467.6,340.8L463.2,343.2L460.3,345.7L459.6,346.8L459.2,348.2L459.6,349.2L463.5,354.2L465.6,358.2L469.6,364.8L470.2,365.4L472.9,366.8L474.4,368.8L473.7,371.8L471.2,374.8L470.1,377.2L469.8,381.2L469.2,382.6L468.2,384.2L467.2,385.0L464.2,385.8L460.2,385.5L458.2,385.9L452.7,389.4L451.8,389.0L448.8,386.6L446.8,385.9L445.2,386.0L442.3,387.2L439.8,386.5L438.8,386.6L436.1,387.8L432.8,391.7L431.8,392.3L429.8,390.4L423.2,386.0L422.2,385.8L418.8,386.0L414.9,384.8L412.9,381.2L410.7,378.2L410.8,374.2L409.8,372.8L407.8,371.4L403.2,370.5L402.2,370.0L400.6,368.2L398.4,364.2L395.2,361.8L391.8,360.4L386.8,359.6L384.5,358.2L384.3,357.8L384.9,356.8L389.2,353.8L391.4,350.8L391.0,349.2L388.4,344.2L388.6,343.2L390.2,341.8L391.2,341.6L393.8,341.6L396.8,343.0L397.8,342.9L399.8,342.1L400.8,341.2L402.9,338.2L403.2,336.8L403.1,334.8L401.0,328.2L399.2,326.5L398.2,326.4L397.1,327.8L396.3,329.2L395.4,332.8L394.2,333.9L393.8,333.6L393.2,332.6L392.0,327.8L390.8,326.4L389.8,326.0L386.8,326.2L385.2,325.7L383.2,324.3L381.2,322.0L379.7,320.8L378.8,320.3L376.1,319.8L375.6,318.2L375.9,317.2L377.6,315.2L378.6,311.2L381.3,304.8L382.2,303.5L384.2,301.8L387.8,299.9L393.4,298.2L398.8,295.3L399.7,295.2L406.8,296.7L416.2,294.6L420.2,292.2L424.2,291.0L425.2,290.4L427.1,287.2L427.8,283.8ZM376.2,346.6L376.8,346.7L377.3,347.2L377.3,347.8L376.8,348.4L376.2,348.4L375.5,347.8L375.6,347.2Z"/>
<path fill="#fb0000" d="M428.8,284.6L429.2,284.5L431.2,286.3L434.2,286.8L440.2,285.0L443.8,284.9L446.3,285.8L448.8,288.3L450.2,289.4L452.8,290.7L458.2,292.7L461.2,295.2L463.8,299.1L469.2,303.1L470.0,305.2L469.5,307.8L469.6,308.8L473.1,313.8L472.6,314.8L469.8,316.8L468.0,320.2L468.0,323.8L469.3,327.2L467.7,333.2L468.1,337.8L467.8,339.1L466.8,340.2L462.8,342.8L460.2,345.1L459.2,346.5L458.8,348.2L459.2,349.6L462.8,354.8L464.6,358.8L468.4,365.8L469.2,366.8L471.5,368.2L472.1,369.2L471.5,371.2L469.5,373.8L468.4,376.2L467.7,380.8L467.3,381.8L466.2,383.1L464.8,383.8L459.8,384.1L457.2,384.8L452.8,387.8L448.8,385.6L446.8,385.1L445.2,385.2L442.2,386.5L439.7,385.8L438.8,385.9L435.8,387.1L432.8,390.0L431.8,390.6L423.2,385.3L418.8,385.0L415.8,383.8L411.8,377.9L411.6,374.2L410.7,372.8L407.8,370.5L404.2,369.7L402.8,369.0L401.6,367.8L399.2,363.6L396.0,360.8L392.2,358.9L388.2,357.8L388.1,357.2L390.8,354.4L392.4,351.8L392.8,350.8L392.4,349.2L390.4,344.8L390.4,343.8L391.2,343.1L393.2,342.8L396.2,343.9L397.2,343.9L400.8,342.2L403.6,337.8L403.7,334.8L402.6,330.8L401.2,327.2L399.3,325.8L398.2,325.5L396.4,327.2L394.8,330.5L394.2,330.8L392.6,327.2L391.0,325.8L389.8,325.3L387.2,325.5L385.8,325.2L383.8,323.8L381.8,321.5L380.2,320.2L379.2,319.6L377.2,319.0L376.7,318.2L378.2,315.6L379.1,311.8L381.9,305.2L382.9,303.8L384.6,302.2L388.2,300.4L393.8,298.7L399.2,295.9L406.8,297.3L416.8,295.1L420.6,292.8L424.8,291.4L425.7,290.8L427.6,287.8Z"/>
<path fill="#ff1e00" d="M439.8,285.7L442.8,285.4L445.2,286.1L446.2,286.7L449.8,289.8L452.8,291.5L457.8,293.5L460.5,295.8L462.8,299.2L467.9,303.2L468.7,304.7L468.7,308.8L471.6,313.8L469.2,316.3L467.7,319.8L467.6,323.8L468.7,327.2L467.1,333.2L467.0,338.2L466.2,339.5L462.8,342.0L459.8,345.1L458.8,346.8L458.5,348.8L461.9,355.2L463.3,359.2L466.8,367.0L468.9,370.2L467.2,373.1L466.0,376.2L465.2,380.2L464.2,381.2L460.3,382.0L457.8,382.8L452.8,385.8L448.8,384.5L446.2,384.2L444.8,384.5L442.2,385.6L438.8,385.3L435.2,386.4L431.8,388.9L428.8,387.8L423.2,384.4L419.2,383.9L416.8,382.8L413.1,377.8L412.4,373.8L411.4,372.2L408.2,369.6L403.5,367.8L399.8,362.2L396.8,359.4L392.8,356.9L392.3,356.2L394.2,351.2L394.2,349.8L393.1,346.2L393.1,345.2L393.8,345.0L396.8,345.3L400.2,343.5L401.5,342.2L404.0,338.2L404.2,334.2L403.2,330.1L402.2,327.2L401.2,326.2L398.8,324.9L397.2,325.2L395.2,327.1L394.2,327.4L390.8,324.8L386.2,324.6L384.3,323.2L382.2,320.9L378.5,317.8L379.8,311.8L382.7,305.2L384.5,303.2L387.2,301.6L393.8,299.2L399.2,296.7L406.8,298.0L416.2,296.1L421.2,293.3L425.8,291.5L429.2,286.8L434.2,287.4Z"/>
<path fill="#ff4000" d="M440.8,286.2L443.2,286.2L445.2,286.9L449.2,290.3L452.2,292.1L457.2,294.3L459.7,296.2L462.2,299.8L466.8,303.8L467.5,304.8L467.9,308.8L469.8,312.8L470.0,313.8L468.2,316.7L467.2,319.8L467.2,324.2L468.0,327.2L466.5,333.2L466.1,337.8L465.6,338.8L462.2,341.5L459.2,345.1L458.5,346.8L458.1,348.8L460.9,355.8L465.7,370.8L462.8,378.7L457.2,381.0L453.2,383.7L452.2,384.0L449.2,383.4L446.2,383.4L442.2,384.6L438.8,384.6L434.8,385.6L432.2,387.2L431.2,387.5L428.2,386.5L423.2,383.6L419.2,382.6L417.7,381.8L414.3,377.2L413.4,373.8L412.6,372.2L408.8,368.8L404.2,366.5L400.8,361.3L398.2,358.6L395.0,355.8L395.7,351.8L395.5,347.8L398.2,346.1L401.2,343.7L404.6,338.2L404.9,334.2L403.4,327.8L402.2,326.1L398.8,324.2L397.2,324.3L395.2,325.6L394.2,325.8L390.8,324.1L387.2,324.0L385.8,323.4L380.2,317.8L379.9,316.8L380.1,313.8L380.8,311.4L383.6,305.2L385.7,303.2L388.8,301.6L399.2,297.5L406.8,298.7L416.6,296.8L421.2,294.2L425.8,292.2L429.8,288.0L434.8,287.9Z"/>
<path fill="#ff6100" d="M438.7,287.2L442.2,286.8L444.2,287.3L448.8,290.8L452.2,293.0L456.3,294.8L458.8,296.6L461.8,300.4L466.2,304.8L467.1,309.2L468.8,313.2L466.8,319.2L466.8,324.2L467.4,327.2L465.8,333.2L465.2,337.2L464.7,338.2L461.8,341.0L459.2,344.4L458.5,345.8L457.8,348.2L457.9,349.8L459.8,356.2L463.0,370.2L462.9,371.8L461.2,375.8L460.5,376.8L452.8,382.0L445.8,382.6L442.2,383.7L439.2,383.8L435.2,384.5L431.8,386.1L430.8,386.2L427.2,385.2L423.2,382.6L418.7,380.8L415.6,376.8L414.3,373.2L413.3,371.8L409.2,367.9L405.0,365.2L402.2,361.0L397.3,355.2L397.1,354.2L397.4,348.8L402.2,343.8L404.7,339.2L405.2,337.8L405.5,334.8L405.2,331.2L404.6,328.8L403.6,326.2L401.2,324.5L398.8,323.6L396.8,323.7L394.2,324.7L390.8,323.4L387.2,323.2L386.2,322.8L381.2,317.2L380.9,313.8L382.2,309.8L384.2,305.8L386.2,303.8L389.2,302.0L399.2,298.3L400.8,298.3L405.2,299.3L406.8,299.3L416.8,297.5L426.2,292.6L430.2,288.9L434.8,288.5Z"/>
<path fill="#ff8300" d="M439.2,287.7L442.2,287.4L443.8,287.9L450.8,293.0L456.8,296.2L458.8,297.8L460.8,300.5L465.1,305.2L467.7,313.2L466.3,319.2L466.4,324.2L466.9,327.2L464.1,337.2L461.8,339.9L459.2,343.6L458.1,345.8L457.5,348.2L457.5,350.2L458.8,357.2L460.6,370.2L460.5,371.8L459.3,374.2L453.7,379.2L452.2,380.2L442.2,382.8L434.8,383.7L431.2,385.0L429.8,385.0L426.8,384.1L423.2,381.6L419.2,379.4L416.8,376.2L414.4,371.8L410.2,367.5L405.8,363.9L399.2,354.7L398.8,351.2L398.9,349.8L402.8,344.2L405.3,339.2L405.9,337.2L406.1,334.2L405.9,330.8L405.0,327.2L404.2,325.8L402.8,324.5L399.2,323.0L397.2,322.9L394.2,323.6L390.8,322.7L386.8,322.2L385.8,321.4L382.3,317.2L381.8,315.8L381.7,313.2L383.3,309.1L385.2,305.8L387.2,303.9L390.8,302.0L399.8,298.9L406.8,300.0L416.8,298.3L426.2,293.3L430.6,289.8L434.8,289.0Z"/>
<path fill="#ffa500" d="M439.8,288.2L442.2,288.1L443.8,288.7L450.2,293.5L456.2,296.9L458.2,298.6L463.8,305.2L466.6,312.8L465.9,319.2L466.3,327.2L463.3,336.8L460.9,339.8L458.8,343.5L457.8,345.8L457.2,348.2L457.1,350.2L458.3,368.2L458.2,370.8L457.7,372.2L452.7,377.8L447.8,380.2L441.8,382.1L437.8,382.7L434.2,382.9L431.2,383.8L428.8,384.0L426.8,383.3L419.8,377.9L415.1,371.3L406.6,362.7L400.8,353.8L400.4,351.2L400.7,349.8L405.8,339.5L406.4,337.2L406.8,333.8L406.7,330.8L406.3,328.8L405.2,325.8L403.8,324.2L399.8,322.5L397.2,322.3L394.2,322.7L387.2,321.6L386.2,320.8L383.1,316.8L382.4,313.2L384.0,309.2L385.8,306.2L387.8,304.4L391.6,302.2L399.8,299.7L406.8,300.7L416.8,299.1L419.2,298.0L425.8,294.3L430.7,290.6Z"/>
<path fill="#ffc700" d="M437.8,289.1L441.8,288.8L443.8,289.5L450.2,294.4L456.8,298.4L461.5,303.8L463.2,306.3L465.7,312.8L465.4,319.2L465.7,327.2L462.7,335.8L459.7,340.4L458.0,344.2L457.1,347.2L456.6,350.8L456.3,366.8L456.0,369.8L455.5,371.2L451.0,376.8L446.5,379.8L438.8,381.9L434.2,382.0L430.8,382.8L428.2,383.1L426.8,382.4L420.2,376.5L416.3,371.2L407.6,361.8L402.6,353.8L402.1,351.8L402.3,349.2L406.6,338.8L407.3,335.2L407.4,329.8L405.9,325.2L404.2,323.6L400.8,322.1L397.2,321.6L393.8,321.8L387.8,320.9L386.8,320.2L384.1,316.8L383.3,314.8L383.2,313.2L384.5,309.8L386.8,306.3L388.4,304.8L391.8,302.8L396.2,301.2L399.8,300.4L401.2,300.5L404.8,301.3L406.8,301.4L417.2,299.8L421.8,297.5L431.2,291.3Z"/>
<path fill="#ffe900" d="M437.8,289.7L441.2,289.4L443.2,290.1L449.8,295.0L456.8,299.6L460.8,304.1L462.6,307.2L464.8,312.8L465.2,326.8L463.5,332.2L461.8,335.8L459.8,338.9L457.1,345.8L456.2,349.8L455.3,356.8L454.8,363.8L454.2,367.8L453.7,369.8L452.5,371.8L449.4,376.3L445.8,379.1L438.8,381.2L433.8,381.2L428.2,382.3L426.6,381.2L421.3,375.8L412.1,365.2L407.2,358.9L404.3,353.8L403.6,350.8L403.5,349.2L405.3,343.2L407.3,338.2L408.2,332.2L408.0,328.8L406.8,325.0L404.8,322.9L401.2,321.5L397.2,321.0L392.2,320.9L388.2,320.2L387.2,319.5L385.1,316.8L384.2,314.8L383.9,313.2L385.2,309.9L387.4,306.8L388.9,305.2L392.2,303.2L399.2,301.1L401.2,301.2L405.8,302.1L410.2,301.7L417.3,300.6L422.2,298.1L431.8,291.9Z"/>
<path fill="#f3ff0c" d="M438.8,290.2L441.7,290.2L443.6,291.2L449.8,296.0L456.7,300.7L459.8,304.2L461.8,307.8L464.0,312.8L464.4,316.8L464.6,326.8L462.9,332.2L459.2,338.4L457.4,343.2L454.3,356.8L453.5,363.2L452.5,367.2L451.5,369.8L448.5,375.2L445.4,378.2L439.2,380.3L437.8,380.5L433.2,380.3L428.2,381.3L426.8,380.2L413.2,365.1L408.0,357.8L405.7,353.2L404.7,350.2L404.6,348.8L406.0,343.2L408.1,337.8L408.9,332.2L408.9,328.8L407.6,324.8L405.3,322.3L401.8,321.0L397.2,320.3L392.2,320.1L388.8,319.5L387.8,318.8L386.2,316.8L385.2,314.8L384.9,313.2L386.0,310.2L388.2,307.1L389.6,305.8L392.8,303.7L396.2,302.6L399.8,301.8L405.8,302.8L410.8,302.4L417.8,301.3L422.8,298.8L431.8,292.8Z"/>
<path fill="#d2ff2d" d="M438.8,291.2L441.2,291.3L444.8,293.2L455.8,301.4L459.2,305.2L462.4,311.2L463.1,313.2L463.8,317.1L464.0,326.8L462.2,332.2L458.7,338.2L457.2,342.2L453.5,356.2L452.4,363.2L451.4,366.8L450.2,369.5L447.3,374.8L444.8,377.1L438.8,379.2L428.8,379.5L427.8,378.9L424.2,374.8L416.8,367.3L414.8,365.0L408.9,356.8L406.6,352.2L405.7,349.8L405.8,347.8L406.8,343.2L408.6,338.2L409.7,332.2L409.6,328.2L408.5,324.2L406.7,322.2L404.8,321.1L401.2,320.1L392.8,319.2L389.6,318.2L387.9,316.2L386.8,313.2L387.6,310.8L389.6,307.8L393.5,304.8L396.8,303.5L399.8,302.8L405.2,303.6L407.8,303.6L412.8,303.2L417.8,302.2L422.8,299.8L428.4,295.8L432.2,293.5Z"/>
<path fill="#b0ff4f" d="M438.2,292.7L441.2,292.8L444.8,294.8L454.8,302.3L458.2,306.1L461.2,311.3L462.1,313.8L462.9,317.2L463.3,326.2L461.6,332.2L458.0,338.2L456.4,342.2L452.6,356.2L451.0,364.2L449.8,367.8L447.2,372.3L444.8,375.1L442.2,376.4L437.8,377.8L431.8,377.8L429.8,377.4L428.8,376.8L426.0,373.8L417.8,366.1L410.8,357.1L407.9,352.2L406.9,349.2L407.0,347.2L407.9,342.8L409.6,337.8L410.6,332.2L410.5,327.8L410.0,324.8L409.2,323.2L408.0,321.8L405.8,320.3L401.8,319.4L396.2,318.6L391.9,317.2L390.1,315.8L389.4,314.2L389.2,312.8L389.9,310.8L391.8,308.2L393.8,306.6L397.2,304.9L401.2,304.0L405.8,304.6L411.3,304.7L417.2,303.6L422.8,300.9L431.8,294.9L435.8,293.3Z"/>
<path fill="#8eff71" d="M436.8,294.2L440.8,294.2L444.8,296.2L453.7,303.2L457.2,306.9L460.5,312.2L461.7,316.2L462.4,322.2L462.4,326.2L461.0,332.2L457.3,338.2L455.0,344.2L451.6,356.2L450.2,363.3L448.0,368.8L445.7,372.2L442.2,374.8L437.2,376.4L433.3,376.4L431.8,376.1L430.2,375.3L419.7,365.8L415.6,361.2L411.8,356.2L409.2,352.2L408.2,349.2L408.1,347.2L408.9,342.8L411.3,333.8L411.6,329.2L411.2,324.8L409.8,321.8L408.8,320.8L406.2,319.3L396.8,317.8L394.2,316.7L392.4,315.2L391.5,312.8L391.9,311.2L393.8,308.9L395.2,307.8L398.2,306.1L402.2,305.1L407.8,306.0L411.8,305.9L417.2,304.8L422.8,302.2L432.2,295.8Z"/>
<path fill="#6cff93" d="M435.7,295.7L437.2,295.3L440.2,295.5L441.8,295.9L444.2,297.3L452.8,304.0L456.5,307.8L459.6,312.8L461.0,316.8L461.6,322.8L461.7,325.8L460.4,332.2L456.6,338.2L454.1,344.2L450.6,356.2L449.2,362.9L447.2,367.5L444.8,371.1L441.7,373.2L436.8,374.9L433.8,375.0L432.8,374.8L431.9,374.2L428.2,370.8L422.9,366.8L420.2,364.2L413.8,356.7L410.2,351.6L409.3,348.8L409.2,347.2L409.6,343.2L412.1,333.8L412.4,328.8L412.2,324.3L410.6,320.8L409.2,319.5L406.2,317.9L396.9,316.2L394.7,314.8L394.1,312.8L394.4,311.8L395.5,310.2L399.2,307.7L402.8,306.6L408.8,307.4L412.8,307.3L417.2,306.2L423.2,303.2L432.2,297.0Z"/>
<path fill="#4affb5" d="M436.8,296.7L440.8,297.0L444.8,299.0L452.2,305.0L455.8,308.5L458.8,313.2L460.0,316.8L460.6,320.8L460.8,325.8L459.8,331.8L458.0,335.2L455.6,338.8L453.4,343.8L449.6,355.8L447.8,362.8L446.8,365.0L444.2,368.8L442.8,370.2L439.2,371.9L434.8,372.7L433.2,372.4L431.8,371.5L423.2,364.8L420.1,361.8L415.8,356.8L411.4,350.8L410.3,347.8L410.4,343.8L412.8,333.8L413.2,328.8L413.1,323.8L412.1,320.2L411.3,318.4L407.8,314.6L405.2,312.8L405.2,312.2L413.2,309.8L418.2,307.7L423.8,304.4L431.2,298.8L433.8,297.5Z"/>
<path fill="#28ffd7" d="M435.2,298.2L439.8,298.3L443.2,299.7L446.8,301.9L451.7,306.1L454.4,308.8L457.6,313.2L458.5,315.2L459.7,320.2L459.9,324.8L459.8,327.2L459.0,331.8L457.4,335.2L454.5,339.2L452.2,344.2L445.9,363.2L443.8,366.3L441.8,368.3L438.8,369.7L435.2,370.2L432.8,369.6L430.8,368.5L421.8,361.0L417.2,356.2L413.7,351.8L412.0,348.8L411.5,347.2L411.4,343.8L413.5,333.8L414.0,328.8L414.1,323.2L413.0,314.8L413.2,313.7L417.0,310.8L424.2,305.9L430.9,300.2Z"/>
<path fill="#07fff8" d="M434.8,299.6L437.8,299.5L441.8,300.4L446.0,302.8L451.4,307.2L454.2,310.2L457.3,314.8L458.5,318.8L459.0,323.2L459.0,327.2L458.6,330.2L458.0,332.2L456.8,335.2L453.9,338.8L451.2,344.2L444.8,362.1L440.9,366.2L438.2,367.5L436.2,367.8L433.2,367.5L431.8,367.0L422.2,359.1L418.0,354.8L414.4,350.2L412.7,347.2L412.3,343.8L414.3,333.8L415.4,320.2L416.4,315.2L419.2,311.8L424.2,307.9L431.2,301.2Z"/>
<path fill="#00e4ff" d="M435.2,300.7L436.8,300.6L440.2,301.1L444.8,303.2L450.2,307.6L452.9,310.2L456.1,314.8L456.8,316.2L458.0,321.2L458.1,326.2L457.8,329.8L456.2,334.7L452.9,338.8L450.3,343.8L443.1,361.2L440.8,363.7L439.2,364.7L436.8,365.4L433.8,365.5L432.2,365.0L426.8,360.8L423.2,358.0L418.9,353.8L415.9,350.2L414.0,347.2L413.1,343.2L415.1,333.8L416.8,321.0L418.4,316.2L420.8,312.8L424.8,309.2L431.2,302.6L432.8,301.5Z"/>
<path fill="#00c2ff" d="M434.2,302.2L436.8,301.8L441.3,302.7L445.2,304.8L449.8,308.5L452.3,311.2L455.2,315.8L456.5,319.8L456.9,323.2L456.6,329.2L455.2,334.2L451.8,338.8L441.6,358.8L440.6,360.2L438.8,361.8L436.8,362.5L434.8,362.7L432.8,362.2L428.2,359.4L424.2,356.7L420.3,353.4L415.8,348.2L414.7,346.2L414.1,343.2L414.8,338.8L416.4,332.2L418.2,321.7L419.7,317.2L421.9,313.8L428.4,306.8L432.2,303.1Z"/>
<path fill="#00a0ff" d="M435.3,303.1L439.8,303.4L442.2,304.4L445.8,306.5L449.4,309.8L451.6,312.2L454.2,316.7L455.3,320.8L455.6,324.2L455.3,329.2L453.8,334.2L451.1,337.8L441.9,353.8L439.2,357.6L437.2,359.4L435.3,359.9L432.2,359.0L429.7,357.9L425.2,355.3L420.8,352.2L416.8,347.8L415.6,345.2L415.1,342.8L416.0,338.2L417.8,332.2L419.8,321.8L421.2,317.8L423.1,314.8L429.2,307.2L433.2,303.9Z"/>
<path fill="#007eff" d="M434.2,304.7L436.8,304.3L440.8,304.9L444.3,306.7L446.9,308.8L450.2,312.2L452.8,316.8L453.9,320.2L454.2,323.2L454.1,328.8L452.6,333.8L440.2,352.5L436.8,356.3L435.2,356.9L430.8,356.0L421.8,351.4L418.0,347.8L416.6,344.8L416.2,342.8L417.2,337.8L419.1,332.2L421.2,322.2L422.8,318.2L424.5,315.2L429.6,308.2Z"/>
<path fill="#005cff" d="M435.2,305.6L439.2,305.8L441.8,306.6L445.2,308.7L448.8,312.3L451.4,316.8L452.4,319.8L452.9,322.8L452.8,328.2L451.9,332.2L451.2,333.8L445.2,342.6L439.1,350.8L435.2,353.9L431.8,354.1L427.8,352.7L421.8,349.8L418.7,346.8L417.4,343.8L417.2,342.2L418.3,337.8L420.7,331.2L422.7,322.7L424.5,318.2L427.1,313.8L430.4,308.8L432.8,307.0Z"/>
<path fill="#003bff" d="M434.8,307.2L436.8,306.8L439.8,307.2L441.2,307.7L444.8,309.8L447.8,313.0L449.8,316.3L450.8,318.8L451.7,322.8L451.8,327.8L450.4,333.2L448.1,337.2L444.8,341.5L437.2,349.8L434.8,351.4L431.8,351.9L424.8,350.1L422.8,349.2L419.8,346.2L418.8,343.7L418.5,342.2L419.4,338.2L421.9,331.8L424.0,323.2L425.8,318.8L428.2,314.1L431.2,309.5Z"/>
<path fill="#0019ff" d="M435.2,309.6L436.8,309.3L438.8,309.4L441.8,310.4L444.5,312.2L446.2,314.0L447.5,315.8L449.5,319.2L450.6,323.2L450.8,327.2L450.1,332.2L448.2,336.2L446.8,338.2L443.2,341.8L436.2,347.7L434.2,348.8L432.2,349.2L428.2,348.5L424.8,348.7L423.2,348.0L422.1,346.8L421.1,341.8L421.4,338.8L422.7,334.2L424.9,323.8L427.0,318.8L429.8,314.3L432.8,310.8Z"/>
<path fill="#0000f6" d="M435.8,312.2L438.8,312.1L441.2,312.8L444.8,315.4L447.2,318.5L448.7,321.2L449.8,325.8L449.4,332.2L447.8,336.1L446.2,338.0L442.8,341.0L437.2,344.5L435.2,345.6L433.2,346.2L429.2,346.1L426.2,346.9L424.8,347.0L424.2,346.7L423.8,345.8L424.0,341.8L423.8,338.8L424.8,329.8L426.0,323.8L427.2,320.6L429.8,316.5L433.2,313.2Z"/>
<path fill="#0000d4" d="M435.2,314.7L438.8,314.6L440.2,315.0L443.8,317.1L445.8,319.3L447.2,321.4L448.7,325.8L448.6,331.8L447.3,335.9L446.2,337.1L443.7,339.2L435.2,343.3L432.2,343.6L429.2,343.2L427.8,342.8L427.4,342.2L426.1,338.2L426.0,330.2L426.9,324.8L428.2,321.2L430.2,318.0L433.8,315.2Z"/>
<path fill="#0000b2" d="M435.2,317.2L439.2,316.9L442.3,318.3L444.2,319.9L445.7,321.8L446.6,323.8L447.4,326.8L447.3,329.8L446.9,331.8L445.8,334.5L443.8,336.4L439.2,338.4L433.8,339.1L431.4,338.2L430.4,336.8L429.0,331.2L429.0,327.2L429.5,324.2L430.5,321.8L432.3,319.2Z"/>
<path fill="#000090" d="M436.8,319.7L439.2,319.3L441.9,320.2L443.2,321.4L444.2,322.7L445.2,325.7L445.0,329.2L444.2,331.2L442.2,333.3L439.8,334.3L437.2,334.2L435.2,333.3L433.8,331.8L432.8,329.2L432.5,326.8L433.0,323.8L434.5,321.2Z"/></g><g stroke="#111" stroke-width="1" fill="none"><rect x="337.0" y="242.0" width="210.0" height="176.4"/><path d="M370.6,418.4v-2M370.6,242.0v2"/><path d="M404.2,418.4v-2M404.2,242.0v2"/><path d="M437.8,418.4v-2M437.8,242.0v2"/><path d="M471.4,418.4v-2M471.4,242.0v2"/><path d="M505.0,418.4v-2M505.0,242.0v2"/><path d="M538.6,418.4v-2M538.6,242.0v2"/><path d="M337.0,401.0h2M547.0,401.0h-2"/><path d="M337.0,365.6h2M547.0,365.6h-2"/><path d="M337.0,330.2h2M547.0,330.2h-2"/><path d="M337.0,294.8h2M547.0,294.8h-2"/><path d="M337.0,259.4h2M547.0,259.4h-2"/></g>
<text x="341.4" y="437.6" font-size="16" text-anchor="end" >−8</text><text x="375.1" y="437.6" font-size="16" text-anchor="end" >−6</text><text x="408.6" y="437.6" font-size="16" text-anchor="end" >−4</text><text x="442.2" y="437.6" font-size="16" text-anchor="end" >−2</text><text x="475.8" y="437.6" font-size="16" text-anchor="end" >0</text><text x="509.4" y="437.6" font-size="16" text-anchor="end" >2</text><text x="543.1" y="437.6" font-size="16" text-anchor="end" >4</text>
<text x="332.2" y="406.9" font-size="16" text-anchor="end" >−4</text><text x="332.2" y="371.5" font-size="16" text-anchor="end" >−2</text><text x="332.2" y="336.1" font-size="16" text-anchor="end" >0</text><text x="332.2" y="300.7" font-size="16" text-anchor="end" >2</text><text x="332.2" y="265.3" font-size="16" text-anchor="end" >4</text>
<text transform="translate(308.0,331.2) rotate(-90)" font-size="16.3" text-anchor="middle">PC 2 (Å)</text>
<text transform="translate(295.0,232.9)" font-style="italic" font-size="13.6">(</text><text transform="translate(299.6,232.9) scale(1.20,1)" font-style="italic" font-size="11.6">D</text><text transform="translate(310.2,232.9)" font-style="italic" font-size="13.6">)</text>
<text x="442.0" y="458.2" font-size="16.3" text-anchor="middle" >PC 1 (Å)</text>
<rect x="570.40" y="3.40" width="32.40" height="176.50" fill="url(#jet)"/><g stroke="#111" stroke-width="1" fill="none"><rect x="570.4" y="3.4" width="32.4" height="176.5"/><path d="M570.4,123.5h2M602.8,123.5h-2"/><path d="M570.4,67.1h2M602.8,67.1h-2"/><path d="M570.4,10.7h2M602.8,10.7h-2"/></g><text x="606.5" y="185.7" font-size="16" text-anchor="start" >0</text><text x="606.5" y="129.3" font-size="16" text-anchor="start" >1</text><text x="606.5" y="72.9" font-size="16" text-anchor="start" >2</text><text x="606.5" y="16.5" font-size="16" text-anchor="start" >3</text>
<rect x="571.00" y="242.00" width="32.20" height="176.40" fill="url(#jet)"/><g stroke="#111" stroke-width="1" fill="none"><rect x="571.0" y="242.0" width="32.2" height="176.4"/><path d="M571.0,369.5h2M603.2,369.5h-2"/><path d="M571.0,320.7h2M603.2,320.7h-2"/><path d="M571.0,271.8h2M603.2,271.8h-2"/></g><text x="607.3" y="424.2" font-size="16" text-anchor="start" >0</text><text x="607.3" y="375.3" font-size="16" text-anchor="start" >1</text><text x="607.3" y="326.5" font-size="16" text-anchor="start" >2</text><text x="607.3" y="277.6" font-size="16" text-anchor="start" >3</text>
</svg>
</body></html>
